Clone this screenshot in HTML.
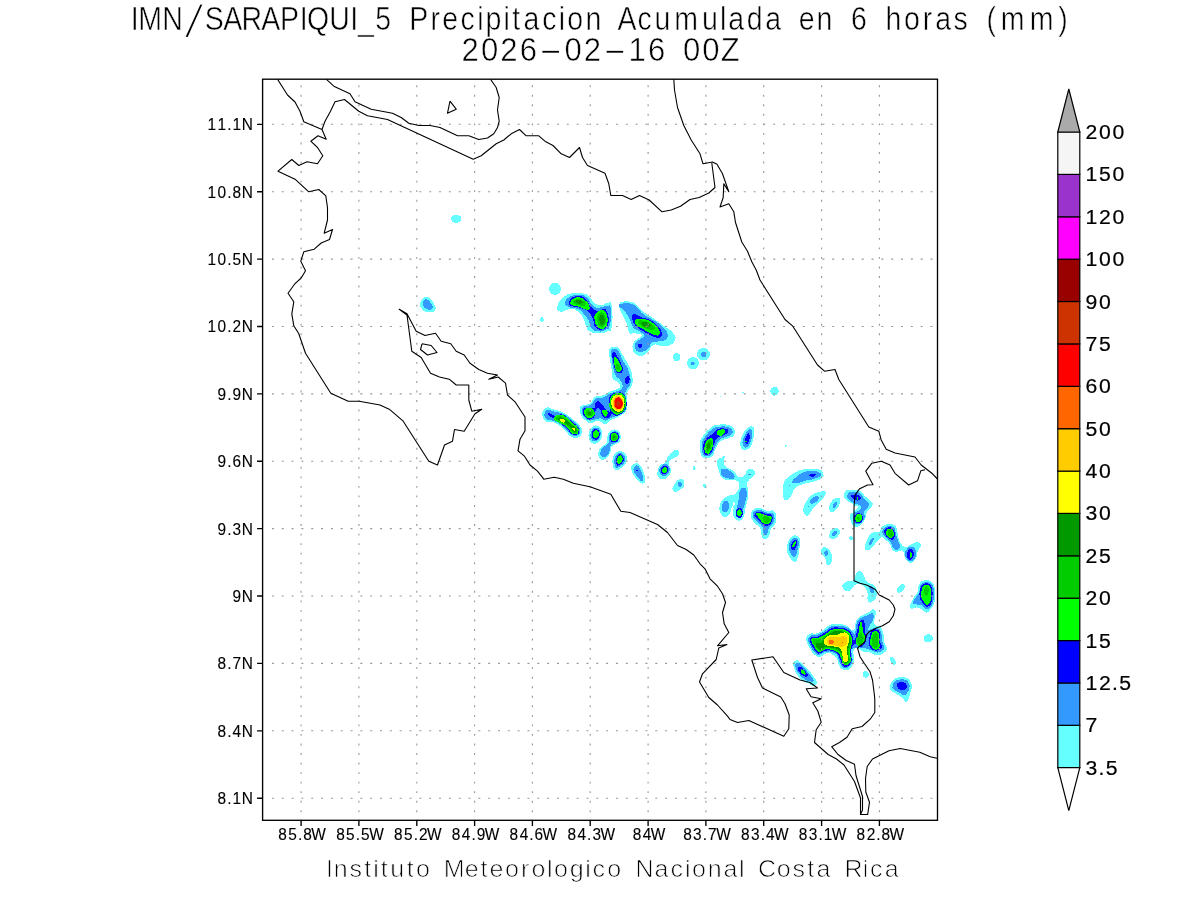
<!DOCTYPE html>
<html lang="es"><head><meta charset="utf-8"><title>IMN/SARAPIQUI_5 Precipitacion Acumulada en 6 horas (mm)</title>
<style>
html,body{margin:0;padding:0;background:#fff;}
body{width:1200px;height:900px;overflow:hidden;font-family:"Liberation Sans",sans-serif;}
svg{display:block;}
text{font-family:"Liberation Sans",sans-serif;fill:#000;}
.ti{font-size:32.4px;stroke:#fff;stroke-width:0.55px;paint-order:fill stroke;}
.ft{font-size:23.4px;stroke:#fff;stroke-width:0.72px;paint-order:fill stroke;}
.ax{font-size:16.6px;stroke:#000;stroke-width:.12px;}
.cb{font-size:20.8px;stroke:#000;stroke-width:.2px;}
</style></head><body>
<svg width="1200" height="900" viewBox="0 0 1200 900">
<defs><clipPath id="pc"><rect x="262.6" y="79.2" width="674.9" height="741.0999999999999"/></clipPath></defs>
<rect width="1200" height="900" fill="#fff"/>
<g clip-path="url(#pc)" shape-rendering="crispEdges">
<path fill="#66ffff" d="M461.5 218.8C461.5 219.8 461.5 219.8 460.8 220.8C460.1 221.7 460.1 221.7 458.9 222.2C457.7 222.7 457.7 222.8 456.2 222.8C454.8 222.8 454.8 222.7 453.6 222.2C452.4 221.7 452.4 221.7 451.7 220.8C451 219.8 451 219.8 451 218.8C451 217.7 451 217.7 451.7 216.8C452.4 215.8 452.4 215.8 453.6 215.3C454.8 214.8 454.8 214.8 456.2 214.8C457.7 214.8 457.7 214.8 458.9 215.3C460.1 215.8 460.1 215.8 460.8 216.8C461.5 217.7 461.5 217.7 461.5 218.8ZM420.2 303.8C420.6 301.3 420.7 300.6 422.5 298.8C424.3 296.9 424.7 296.8 427 297C429.3 297.2 429.2 297.4 431.2 299.5C433.2 301.6 433.4 302.2 434.5 305C435.6 307.8 436.3 308.1 435.2 310C434.2 311.9 433.2 311.9 430.5 312.2C427.8 312.6 427.5 312.6 425 311.5C422.5 310.4 422.5 310.1 421.2 308C420 305.9 419.9 306.2 420.2 303.8ZM543.5 319.5C543.5 320.2 543.5 320.2 543.3 320.8C543 321.3 543 321.3 542.6 321.7C542.2 322 542.2 322 541.8 322C541.3 322 541.3 322 540.9 321.7C540.5 321.3 540.5 321.3 540.2 320.8C540 320.2 540 320.2 540 319.5C540 318.8 540 318.8 540.2 318.2C540.5 317.7 540.5 317.7 540.9 317.3C541.3 317 541.3 317 541.8 317C542.2 317 542.2 317 542.6 317.3C543 317.7 543 317.7 543.3 318.2C543.5 318.8 543.5 318.8 543.5 319.5ZM560.8 288.8C560.8 290.4 560.8 290.4 560 291.8C559.3 293.2 559.3 293.2 557.9 294C556.6 294.8 556.6 294.8 555 294.8C553.4 294.8 553.4 294.8 552.1 294C550.7 293.2 550.7 293.2 550 291.8C549.2 290.4 549.2 290.4 549.2 288.8C549.2 287.2 549.2 287.2 550 285.8C550.7 284.4 550.7 284.4 552.1 283.6C553.4 282.8 553.4 282.8 555 282.8C556.6 282.8 556.6 282.8 557.9 283.6C559.3 284.4 559.3 284.4 560 285.8C560.8 287.2 560.8 287.2 560.8 288.8ZM543.7 319.7C543.7 320.4 543.7 320.4 543.4 321C543.2 321.6 543.2 321.6 542.8 322C542.4 322.3 542.4 322.3 542 322.3C541.6 322.3 541.6 322.3 541.2 322C540.8 321.6 540.8 321.6 540.6 321C540.3 320.4 540.3 320.4 540.3 319.7C540.3 319 540.3 318.9 540.6 318.3C540.8 317.7 540.8 317.7 541.2 317.4C541.6 317 541.6 317 542 317C542.4 317 542.4 317 542.8 317.4C543.2 317.7 543.2 317.7 543.4 318.3C543.7 318.9 543.7 319 543.7 319.7ZM557.5 305.8C558.4 302.1 559.6 300.8 563.3 297.5C567.1 294.2 566.8 294.4 571.7 293.3C576.6 292.2 577.2 292.7 581.7 293.3C586.1 294 584.8 293.2 588.3 295.8C591.9 298.5 591.4 300.9 595 303.3C598.6 305.8 598.1 305.2 601.7 305C605.2 304.8 605.7 302.3 608.3 302.5C611 302.7 610.8 299.4 611.7 305.8C612.6 312.3 613 319.8 611.7 326.7C610.3 333.6 610.2 329.9 606.7 331.7C603.1 333.4 602.8 333.3 598.3 333.3C593.9 333.3 593.3 333.7 590 331.7C586.7 329.7 587.6 329.4 585.8 325.8C584.1 322.3 585.8 322.3 583.3 318.3C580.9 314.3 580.2 313.3 576.7 310.8C573.1 308.4 574.4 308.9 570 309.2C565.6 309.4 563.3 312.6 560 311.7C556.7 310.8 556.6 309.6 557.5 305.8ZM619.2 305C619.6 301.9 620.4 302.6 623.3 301.7C626.2 300.8 626.4 300.8 630 301.7C633.6 302.6 633.1 302.3 636.7 305C640.2 307.7 638.9 308.1 643.3 311.7C647.8 315.2 647.6 314.3 653.3 318.3C659.1 322.3 659.7 322.7 665 326.7C670.3 330.7 670.7 329.8 673.3 333.3C676 336.9 675.9 336.9 675 340C674.1 343.1 673.6 343.4 670 345C666.4 346.6 666.1 345.8 661.7 345.8C657.2 345.8 656.9 343.4 653.3 345C649.8 346.6 651.4 348.8 648.3 351.7C645.2 354.6 645.2 355.4 641.7 355.8C638.1 356.3 637.4 355.8 635 353.3C632.6 350.9 632.5 350 632.5 346.7C632.5 343.3 632.6 343.7 635 340.8C637.4 337.9 641.7 337.8 641.7 335.8C641.7 333.8 638.3 334.2 635 333.3C631.7 332.4 631.4 335.2 629.2 332.5C626.9 329.8 628.7 328.4 626.7 323.3C624.7 318.2 623.7 318.2 621.7 313.3C619.7 308.4 618.7 308.1 619.2 305ZM609.2 350C610.1 346.5 610.9 347.5 613.3 347C615.8 346.5 616.1 346.3 618.3 348C620.6 349.7 619.4 349.7 621.7 353.3C623.9 357 624.2 357.2 626.7 361.7C629.1 366.1 629.3 365.6 630.8 370C632.4 374.4 632.2 374.3 632.5 378.3C632.8 382.3 633.3 381.2 632 385C630.7 388.8 628.8 388.2 627.5 392.5C626.2 396.8 627.3 396.3 627 401C626.7 405.7 628.4 406 626.5 410C624.6 414 624.1 413.3 620 416C615.9 418.7 614.9 417.9 611 420C607.1 422.1 608.4 423.6 605.5 424C602.6 424.4 602.8 422.2 600 421.5C597.2 420.8 597.7 421.1 595 421.5C592.3 421.9 592.7 423.4 590 423C587.3 422.6 587.4 422.1 585 420C582.6 417.9 582.3 418.2 581 415C579.7 411.8 579.5 410.7 580 408C580.5 405.3 580.3 406.2 583 405C585.7 403.8 586.8 405.6 590 403.5C593.2 401.4 591.7 399.1 595 397C598.3 394.9 598.5 397 602.5 395.5C606.5 394 606 393.2 610 391.5C614 389.8 614.8 390.3 617.5 389C620.2 387.7 619.6 388.1 620 386.5C620.4 384.9 621 385.2 619 383C617 380.8 614.5 381.8 612.5 378.3C610.5 374.9 612.3 374.9 611.7 370C611 365.1 610.7 365.3 610 360C609.3 354.7 608.3 353.5 609.2 350ZM680.5 357.2C680.5 358.3 680.5 358.3 680 359.2C679.5 360.2 679.5 360.2 678.6 360.8C677.7 361.3 677.7 361.3 676.7 361.3C675.6 361.3 675.6 361.3 674.8 360.8C673.9 360.2 673.9 360.2 673.4 359.2C672.8 358.3 672.8 358.3 672.8 357.2C672.8 356.1 672.8 356 673.4 355.1C673.9 354.1 673.9 354.1 674.8 353.6C675.6 353 675.6 353 676.7 353C677.7 353 677.7 353 678.6 353.6C679.5 354.1 679.5 354.1 680 355.1C680.5 356 680.5 356.1 680.5 357.2ZM709.7 354.2C709.7 355.9 709.7 355.9 708.8 357.3C708 358.8 708 358.8 706.5 359.6C705 360.5 705 360.5 703.3 360.5C701.6 360.5 701.6 360.5 700.2 359.6C698.7 358.8 698.7 358.8 697.9 357.3C697 355.9 697 355.9 697 354.2C697 352.5 697 352.5 697.9 351C698.7 349.5 698.7 349.5 700.2 348.7C701.6 347.8 701.6 347.8 703.3 347.8C705 347.8 705 347.8 706.5 348.7C708 349.5 708 349.5 708.8 351C709.7 352.5 709.7 352.5 709.7 354.2ZM698.8 363.3C698.8 364.9 698.8 364.9 698 366.3C697.3 367.7 697.3 367.7 695.9 368.5C694.6 369.3 694.6 369.3 693 369.3C691.4 369.3 691.4 369.3 690.1 368.5C688.7 367.7 688.7 367.7 688 366.3C687.2 364.9 687.2 364.9 687.2 363.3C687.2 361.7 687.2 361.7 688 360.3C688.7 358.9 688.7 358.9 690.1 358.1C691.4 357.3 691.4 357.3 693 357.3C694.6 357.3 694.6 357.3 695.9 358.1C697.3 358.9 697.3 358.9 698 360.3C698.8 361.7 698.8 361.7 698.8 363.3ZM542.5 412.5C543.5 409.8 543.8 408.4 546.7 407.5C549.6 406.6 548.9 407.8 553.3 409.2C557.8 410.5 558.4 410.1 563.3 412.5C568.2 414.9 567.2 414.8 571.7 418.3C576.1 421.9 577.2 422.1 580 425.8C582.8 429.6 582.7 429.4 582 432.5C581.3 435.6 580.5 436.4 577.5 437.5C574.5 438.6 574.2 438.4 570.8 436.7C567.5 434.9 569 434.4 565 430.8C561 427.3 560.7 425.8 555.8 423.3C550.9 420.9 550.1 423.2 546.7 421.7C543.2 420.1 544.1 419.9 543 417.5C541.9 415.1 541.5 415.2 542.5 412.5ZM601.9 435.8C601.5 438.2 601.5 438.2 600.2 440.2C599 442.1 599 442.1 597.2 443.1C595.5 444 595.5 444 593.7 443.7C592 443.4 592 443.4 590.7 441.9C589.4 440.4 589.4 440.4 588.9 438.2C588.3 435.9 588.3 435.9 588.8 433.5C589.2 431.1 589.2 431.1 590.4 429.1C591.7 427.2 591.7 427.2 593.4 426.3C595.2 425.3 595.2 425.3 596.9 425.6C598.7 425.9 598.7 426 600 427.4C601.3 428.9 601.3 428.9 601.8 431.2C602.3 433.4 602.3 433.4 601.9 435.8ZM607.5 435.8C608.6 432.7 608.4 432.4 610.8 430.8C613.3 429.3 614.1 429.1 616.7 430C619.2 430.9 619.4 431.3 620.3 434.2C621.2 437.1 621.2 438.2 620 440.8C618.8 443.5 618.1 442.6 615.8 444.2C613.6 445.7 613.2 444.2 611.7 446.7C610.1 449.1 611.8 450 610 453.3C608.2 456.7 607.7 457.8 605 459.2C602.3 460.5 601.8 460.1 600 458.3C598.2 456.6 597.9 455.6 598.3 452.5C598.8 449.4 599.4 449.3 601.7 446.7C603.9 444 605.1 445.4 606.7 442.5C608.2 439.6 606.4 438.9 607.5 435.8ZM613.3 456.7C614.6 453.1 615.1 453 617.5 451.7C619.9 450.3 620.1 450.3 622.5 451.7C624.9 453 625.8 453.6 626.7 456.7C627.6 459.8 627.4 460.2 625.8 463.3C624.3 466.4 623.5 466.6 620.8 468.3C618.2 470 618 470.6 615.8 469.7C613.7 468.8 613.5 468.5 612.8 465C612.2 461.5 612.1 460.2 613.3 456.7ZM631.3 468.3C631.3 465.1 632.1 464.8 634.2 463.7C636.3 462.6 636.7 462 639.2 464.2C641.6 466.3 641.8 467.4 643.3 471.7C644.9 475.9 645.2 476.8 645 480C644.8 483.2 644.3 483.4 642.5 483.7C640.7 483.9 640.6 482.9 638.3 480.8C636.1 478.7 636 479.2 634.2 475.8C632.3 472.5 631.3 471.6 631.3 468.3ZM657.5 471.7C657.9 468.8 658 468.3 660 465.8C662 463.4 663 464.7 665 462.5C667 460.3 665.7 460.2 667.5 457.5C669.3 454.8 669.2 454.5 671.7 452.5C674.1 450.5 674.7 450 676.7 450C678.7 450 679.2 450.7 679.2 452.5C679.2 454.3 678.9 454.7 676.7 456.7C674.4 458.7 672.8 458 670.8 460C668.8 462 669.2 461.5 669.2 464.2C669.2 466.8 671.1 466.7 670.8 470C670.6 473.3 670.6 474.2 668.3 476.7C666.1 479.1 665.2 479.2 662.5 479.2C659.8 479.2 659.7 478.7 658.3 476.7C657 474.7 657.1 474.6 657.5 471.7ZM672.5 489.2C672.3 486.9 673.2 486 675 483.3C676.8 480.7 676.9 480.1 679.2 479.2C681.4 478.3 682 478.4 683.3 480C684.7 481.6 684.8 482.6 684.2 485C683.5 487.4 683.1 487.4 680.8 489.2C678.6 490.9 678.1 491.7 675.8 491.7C673.6 491.7 672.7 491.4 672.5 489.2ZM695.2 468C695.2 468.6 695.2 468.6 695 469.2C694.8 469.7 694.8 469.7 694.5 470C694.2 470.3 694.2 470.3 693.8 470.3C693.5 470.3 693.5 470.3 693.2 470C692.9 469.7 692.9 469.7 692.7 469.2C692.5 468.6 692.5 468.6 692.5 468C692.5 467.4 692.5 467.4 692.7 466.8C692.9 466.3 692.9 466.3 693.2 466C693.5 465.7 693.5 465.7 693.8 465.7C694.2 465.7 694.2 465.7 694.5 466C694.8 466.3 694.8 466.3 695 466.8C695.2 467.4 695.2 467.4 695.2 468ZM706.2 485.5C706.2 486 706.2 486 706 486.4C705.8 486.8 705.8 486.8 705.4 487.1C705.1 487.3 705.1 487.3 704.7 487.3C704.3 487.3 704.3 487.3 703.9 487.1C703.6 486.8 703.6 486.8 703.4 486.4C703.2 486 703.2 486 703.2 485.5C703.2 485 703.2 485 703.4 484.6C703.6 484.2 703.6 484.2 703.9 483.9C704.3 483.7 704.3 483.7 704.7 483.7C705.1 483.7 705.1 483.7 705.4 483.9C705.8 484.2 705.8 484.2 706 484.6C706.2 485 706.2 485 706.2 485.5ZM700 443.3C700.7 438.4 700.7 439.8 703.3 435.8C706 431.8 706.4 431.2 710 428.3C713.6 425.4 711.8 425.9 716.7 425C721.6 424.1 723.7 423.9 728.3 425C733 426.1 732.6 426.5 734.2 429.2C735.7 431.8 735.7 432.6 734.2 435C732.6 437.4 732.1 436.6 728.3 438.3C724.6 440.1 723.6 438.6 720 441.7C716.4 444.8 717 446.2 715 450C713 453.8 714.9 453.6 712.5 455.8C710.1 458.1 708.9 458.8 705.8 458.3C702.7 457.9 702.4 458.2 700.8 454.2C699.3 450.2 699.3 448.2 700 443.3ZM740.3 441.7C741 438.1 741.2 437.1 743.3 433.3C745.5 429.6 745.9 429.3 748.3 427.5C750.8 425.7 750.9 425.6 752.5 426.7C754.1 427.8 754.2 427.7 754.2 431.7C754.2 435.7 753.8 437.2 752.5 441.7C751.2 446.1 751.6 446.2 749.2 448.3C746.7 450.5 745.6 450.1 743.3 449.7C741.1 449.2 741.6 448.8 740.8 446.7C740 444.5 739.7 445.2 740.3 441.7ZM786.7 445.8C786.7 446.1 786.7 446.1 786.6 446.2C786.4 446.4 786.4 446.4 786.2 446.6C786.1 446.7 786.1 446.7 785.8 446.7C785.6 446.7 785.6 446.7 785.4 446.6C785.2 446.4 785.2 446.4 785.1 446.2C785 446.1 785 446.1 785 445.8C785 445.6 785 445.6 785.1 445.4C785.2 445.2 785.2 445.2 785.4 445.1C785.6 445 785.6 445 785.8 445C786.1 445 786.1 445 786.2 445.1C786.4 445.2 786.4 445.2 786.6 445.4C786.7 445.6 786.7 445.6 786.7 445.8ZM695.4 467.5C695.6 468.1 695.6 468.1 695.6 468.6C695.6 469.2 695.6 469.2 695.4 469.5C695.2 469.9 695.2 469.9 694.9 470C694.6 470.2 694.6 470.2 694.2 470C693.8 469.8 693.8 469.8 693.5 469.4C693.1 469 693.1 469 692.9 468.5C692.7 467.9 692.7 467.9 692.7 467.4C692.7 466.8 692.7 466.8 692.9 466.5C693.1 466.1 693.1 466.1 693.4 466C693.8 465.8 693.8 465.8 694.1 466C694.5 466.2 694.5 466.2 694.9 466.6C695.2 467 695.2 467 695.4 467.5ZM706.3 485.8C706.3 486.4 706.3 486.4 706.1 486.9C705.9 487.4 705.9 487.4 705.5 487.7C705.1 488 705.1 488 704.7 488C704.2 488 704.2 488 703.8 487.7C703.4 487.4 703.4 487.4 703.2 486.9C703 486.4 703 486.4 703 485.8C703 485.3 703 485.2 703.2 484.8C703.4 484.3 703.4 484.2 703.8 484C704.2 483.7 704.2 483.7 704.7 483.7C705.1 483.7 705.1 483.7 705.5 484C705.9 484.2 705.9 484.3 706.1 484.8C706.3 485.2 706.3 485.3 706.3 485.8ZM717 461.7C717.7 457.9 719.4 459.1 721.7 457.5C723.9 455.9 724.8 454.7 725.3 455.8C725.9 456.9 723.5 458.8 723.7 461.7C723.8 464.6 723.3 464.2 725.8 466.7C728.4 469.1 730 468.2 733.3 470.8C736.7 473.5 735.4 475.3 738.3 476.7C741.2 478 741.9 477.4 744.2 475.8C746.4 474.3 744.9 472.7 746.7 470.8C748.4 468.9 748.7 468.4 750.8 468.7C753 468.9 754 469.5 754.7 471.7C755.3 473.8 755 474.2 753.3 476.7C751.6 479.1 749.9 478.2 748.3 480.8C746.8 483.5 747.5 482.9 747.5 486.7C747.5 490.4 748.8 489.7 748.3 495C747.9 500.3 746.9 501.3 745.8 506.7C744.7 512 745.5 511.4 744.2 515C742.8 518.6 743.1 518.9 740.8 520C738.6 521.1 737.9 520.9 735.8 519.2C733.7 517.4 733.6 516.2 733 513.3C732.4 510.4 733.9 510.1 733.7 508.3C733.4 506.6 733 505.3 732 506.7C731 508 731.9 510.7 730 513.3C728.1 516 727.4 516.7 725 516.7C722.6 516.7 722.3 516 720.8 513.3C719.4 510.7 719.1 510.2 719.5 506.7C719.9 503.1 720.1 502.9 722.5 500C724.9 497.1 724.8 497.6 728.3 495.8C731.9 494.1 732.9 496.2 735.8 493.3C738.7 490.4 738.9 488.3 739.2 485C739.4 481.7 739.1 482.2 736.7 480.8C734.2 479.5 733.8 480.7 730 480C726.2 479.3 725.4 480.6 722.5 478.3C719.6 476.1 720.6 476.1 719.2 471.7C717.7 467.2 716.3 465.4 717 461.7ZM750.8 515C750.8 511.4 751.7 511 754.2 509.2C756.6 507.3 756.7 507.6 760 508C763.3 508.4 763.1 510.1 766.7 510.8C770.2 511.6 770.8 509.3 773.3 510.8C775.9 512.4 775.9 513.1 776.3 516.7C776.8 520.2 776.5 520.8 775 524.2C773.5 527.5 772.4 526.1 770.8 529.2C769.3 532.3 770.7 533.2 769.2 535.8C767.6 538.5 767.1 539.4 765 539.2C762.9 538.9 762.7 538.1 761.3 535C760 531.9 761.9 530.8 760 527.5C758.1 524.2 756.6 525.8 754.2 522.5C751.7 519.2 750.8 518.6 750.8 515ZM783.7 483.3C785 478.2 784.9 480.6 788.3 477.5C791.8 474.4 791.8 473.9 796.7 471.7C801.6 469.4 800.9 469.8 806.7 469.2C812.4 468.5 814 468.1 818.3 469.2C822.7 470.3 822.1 470.9 823 473.3C823.9 475.8 824.2 476.1 821.7 478.3C819.1 480.6 818.2 480.1 813.3 481.7C808.4 483.2 808.2 482.4 803.3 484.2C798.4 485.9 798.1 485.4 795 488.3C791.9 491.2 793.9 491.9 791.7 495C789.4 498.1 788.9 499.6 786.7 500C784.4 500.4 784.1 501.1 783.3 496.7C782.5 492.2 782.3 488.4 783.7 483.3ZM803.3 508.3C804 504.6 805.3 503.6 807.5 500C809.7 496.4 808.3 497.2 811.7 495C815 492.8 816.4 492.6 820 491.7C823.6 490.7 824.1 490.2 825.3 491.3C826.6 492.4 826.1 493.1 824.7 495.8C823.2 498.6 823 498.3 820 501.7C817 505 816.4 504.8 813.3 508.3C810.2 511.9 810.6 513.4 808.3 515C806.1 516.6 806.3 515.9 805 514.2C803.7 512.4 802.7 512.1 803.3 508.3ZM829.2 508.3C828.9 505.8 829.1 505.2 830.8 502.5C832.6 499.8 833.4 499.2 835.8 498.3C838.3 497.4 839.1 497.4 840 499.2C840.9 500.9 840.3 502.1 839.2 505C838.1 507.9 837.8 508.1 835.8 510C833.8 511.9 833.4 512.4 831.7 512C829.9 511.6 829.4 510.9 829.2 508.3ZM829.2 535C829.4 532.8 829.7 531.9 831.7 530C833.7 528.1 834.4 527.8 836.7 528C838.9 528.2 839.6 528.7 840 530.8C840.4 532.9 839.9 533.7 838.3 535.8C836.8 537.9 836.2 538 834.2 538.7C832.2 539.3 832.2 539.3 830.8 538.3C829.5 537.4 828.9 537.2 829.2 535ZM853.2 538.3C853.2 538.7 853.2 538.7 853 539.1C852.8 539.4 852.8 539.4 852.4 539.6C852.1 539.8 852.1 539.8 851.7 539.8C851.3 539.8 851.3 539.8 850.9 539.6C850.6 539.4 850.6 539.4 850.4 539.1C850.2 538.7 850.2 538.7 850.2 538.3C850.2 537.9 850.2 537.9 850.4 537.6C850.6 537.2 850.6 537.2 850.9 537C851.3 536.8 851.3 536.8 851.7 536.8C852.1 536.8 852.1 536.8 852.4 537C852.8 537.2 852.8 537.2 853 537.6C853.2 537.9 853.2 537.9 853.2 538.3ZM787 546.7C787.4 543.3 787.5 542.9 789.2 540C790.9 537.1 790.9 536.7 793.3 535.8C795.8 534.9 796.5 535.1 798.3 536.7C800.2 538.2 800.1 538.1 800.3 541.7C800.6 545.2 799.9 545.6 799.2 550C798.4 554.4 798.8 555.2 797.5 558.3C796.2 561.4 796.2 561.9 794.2 561.7C792.2 561.4 791.8 559.9 790 557.5C788.2 555.1 788.3 555.4 787.5 552.5C786.7 549.6 786.6 550 787 546.7ZM829.2 535.8C829.4 533.6 829.7 532.1 831.7 530C833.7 527.9 834.4 527.8 836.7 528C838.9 528.2 839.6 528.7 840 530.8C840.4 532.9 839.9 533.7 838.3 535.8C836.8 537.9 836.2 538 834.2 538.7C832.2 539.3 832.2 539.1 830.8 538.3C829.5 537.6 828.9 538.1 829.2 535.8ZM820.8 550C821.3 547.9 822.2 547.4 824.2 547.2C826.2 546.9 826.3 547.3 828.3 549.2C830.3 551 830.7 551.3 831.7 554.2C832.6 557.1 832.4 557.2 832 560C831.6 562.8 831.4 563.6 830 564.7C828.6 565.8 827.8 565.6 826.7 564.2C825.6 562.7 826.9 561.6 825.8 559.2C824.7 556.7 823.8 557.4 822.5 555C821.2 552.6 820.4 552.1 820.8 550ZM853.3 538.3C853.3 538.9 853.3 538.9 853.1 539.3C852.8 539.8 852.8 539.8 852.3 540.1C851.9 540.3 851.9 540.3 851.3 540.3C850.8 540.3 850.8 540.3 850.3 540.1C849.9 539.8 849.9 539.8 849.6 539.3C849.3 538.9 849.3 538.9 849.3 538.3C849.3 537.8 849.3 537.8 849.6 537.3C849.9 536.9 849.9 536.9 850.3 536.6C850.8 536.3 850.8 536.3 851.3 536.3C851.9 536.3 851.9 536.3 852.3 536.6C852.8 536.9 852.8 536.9 853.1 537.3C853.3 537.8 853.3 537.8 853.3 538.3ZM786.7 445.8C786.7 446.1 786.7 446.1 786.6 446.2C786.4 446.4 786.4 446.4 786.2 446.6C786.1 446.7 786.1 446.7 785.8 446.7C785.6 446.7 785.6 446.7 785.4 446.6C785.2 446.4 785.2 446.4 785.1 446.2C785 446.1 785 446.1 785 445.8C785 445.6 785 445.6 785.1 445.4C785.2 445.2 785.2 445.2 785.4 445.1C785.6 445 785.6 445 785.8 445C786.1 445 786.1 445 786.2 445.1C786.4 445.2 786.4 445.2 786.6 445.4C786.7 445.6 786.7 445.6 786.7 445.8ZM865 546.7C865.2 543.8 865.7 542.7 867.5 539.2C869.3 535.6 869.2 535.3 871.7 533.3C874.1 531.3 873.8 531.7 876.7 531.7C879.6 531.7 881.4 531.8 882.5 533.3C883.6 534.9 882.4 535.3 880.8 537.5C879.3 539.7 879.1 538.8 876.7 541.7C874.2 544.6 874.3 546.1 871.7 548.3C869 550.6 868.4 550.4 866.7 550C864.9 549.6 864.8 549.6 865 546.7ZM880.3 530.8C880.9 528.4 880.8 527.6 883.3 525.8C885.9 524.1 886.7 523.9 890 524.2C893.3 524.4 893.8 524.2 895.8 526.7C897.8 529.1 896.4 529.3 897.5 533.3C898.6 537.3 898 538.1 900 541.7C902 545.2 901.9 546 905 546.7C908.1 547.3 908.3 545.4 911.7 544.2C915 542.9 915.1 541.7 917.5 542C919.9 542.3 920.8 542.8 920.8 545.3C920.8 547.9 918.8 548.2 917.5 551.7C916.2 555.1 917.4 555.4 915.8 558.3C914.3 561.2 913.9 561.7 911.7 562.5C909.4 563.3 909.4 562.9 907.5 561.3C905.6 559.8 906 559.5 904.7 556.7C903.3 553.9 904.6 552.2 902.5 550.8C900.4 549.5 899.3 551.9 896.7 551.7C894 551.4 894.3 552 892.5 550C890.7 548 892 547.1 890 544.2C888 541.3 887.3 541.6 885 539.2C882.7 536.7 882.6 537.2 881.3 535C880.1 532.8 879.8 533.3 880.3 530.8ZM842.5 585C843.4 583.2 843.8 583 846.7 581.7C849.6 580.3 850.7 582.4 853.3 580C856 577.6 854.7 574.8 856.7 572.5C858.7 570.2 858.8 570.2 860.8 571.3C862.8 572.4 862.6 573.9 864.2 576.7C865.7 579.4 864.2 579.4 866.7 581.7C869.1 583.9 870.7 582.8 873.3 585C876 587.2 876 586.4 876.7 590C877.3 593.6 876.7 595.4 875.8 598.3C874.9 601.2 874.9 599.7 873.3 600.8C871.8 601.9 871.6 602.9 870 602.5C868.4 602.1 868.2 601.6 867.5 599.2C866.8 596.7 868.4 596.7 867.5 593.3C866.6 590 867.1 589.1 864.2 586.7C861.3 584.2 860 583.5 856.7 584.2C853.3 584.8 854.3 587.4 851.7 589.2C849 590.9 848.9 591.1 846.7 590.8C844.4 590.6 844.4 589.9 843.3 588.3C842.2 586.8 841.6 586.8 842.5 585ZM897 590C897.2 588.2 897.5 587.4 899.2 585.8C900.9 584.3 901.8 583.7 903.3 584.2C904.9 584.6 905.4 585.5 905 587.5C904.6 589.5 903.4 590.3 901.7 591.7C899.9 593 899.6 592.9 898.3 592.5C897.1 592.1 896.8 591.8 897 590ZM806.3 640C806.1 636.2 806.4 635.9 809.2 634.2C811.9 632.4 812.9 634.4 816.7 633.3C820.4 632.2 819.8 632.2 823.3 630C826.9 627.8 826 626.6 830 625C834 623.4 833.9 623.9 838.3 624.2C842.8 624.4 842.7 624.3 846.7 625.8C850.7 627.4 850.9 631.1 853.3 630C855.8 628.9 854.1 625.2 855.8 621.7C857.6 618.1 856.7 619.1 860 616.7C863.3 614.2 864.8 614.5 868.3 612.5C871.9 610.5 871.3 608.9 873.3 609.2C875.3 609.4 875.6 610.4 875.8 613.3C876.1 616.2 874.4 616.9 874.2 620C873.9 623.1 873.4 623.2 875 625C876.6 626.8 877.8 624.4 880 626.7C882.2 628.9 882.2 629.3 883.3 633.3C884.4 637.3 883.3 637.7 884.2 641.7C885.1 645.7 886.9 645.2 886.7 648.3C886.4 651.4 886 651.6 883.3 653.3C880.7 655.1 880.2 655.2 876.7 655C873.1 654.8 873.6 653.4 870 652.5C866.4 651.6 866.9 652.8 863.3 651.7C859.8 650.6 859.3 648.3 856.7 648.3C854 648.3 854 648.6 853.3 651.7C852.7 654.8 854.8 655.8 854.2 660C853.5 664.2 853.3 664.8 850.8 667.5C848.4 670.2 848 670.2 845 670C842 669.8 841.7 669.3 839.7 666.7C837.7 664 839.2 663.1 837.5 660C835.8 656.9 836.2 656.8 833.3 655C830.4 653.2 830.2 652.9 826.7 653.3C823.1 653.8 823.1 656.2 820 656.7C816.9 657.1 817.7 657.2 815 655C812.3 652.8 812.3 652.3 810 648.3C807.7 644.3 806.6 643.8 806.3 640ZM793.3 663.3C793.8 661.2 793.8 660.7 795.8 660.5C797.8 660.3 797.5 660 800.8 662.5C804.2 665 804.6 665.8 808.3 670C812.1 674.2 812.8 674.8 815 678.3C817.2 681.9 817.1 681.3 816.7 683.3C816.2 685.3 815.6 685.8 813.3 685.8C811.1 685.8 811.4 684.9 808.3 683.3C805.2 681.8 804.8 682.4 801.7 680C798.6 677.6 798.7 677.3 796.7 674.2C794.7 671.1 795.1 671.2 794.2 668.3C793.3 665.4 792.9 665.4 793.3 663.3ZM897 590C897.2 588.2 897.5 587.4 899.2 585.8C900.9 584.3 901.8 583.7 903.3 584.2C904.9 584.6 905.4 585.5 905 587.5C904.6 589.5 903.4 590.3 901.7 591.7C899.9 593 899.6 592.9 898.3 592.5C897.1 592.1 896.8 591.8 897 590ZM910 605.8C910.4 603.1 911.3 602.1 913.3 598.3C915.3 594.6 915.9 595.4 917.5 591.7C919.1 587.9 917.4 587.2 919.2 584.2C920.9 581.1 921.3 581.2 924.2 580.3C927.1 579.4 927.3 579.4 930 580.8C932.7 582.3 932.8 582.5 934.2 585.8C935.5 589.2 935 588.7 935 593.3C935 598 935.5 598.9 934.2 603.3C932.8 607.8 932.2 607.6 930 610C927.8 612.4 928.1 612.7 925.8 612.5C923.6 612.3 924.1 610.5 921.7 609.2C919.2 607.8 919.3 607.6 916.7 607.5C914 607.4 913.4 609.1 911.7 608.7C909.9 608.2 909.6 608.6 910 605.8ZM932.8 638.3C932.8 639.4 932.8 639.5 932.2 640.4C931.6 641.4 931.6 641.4 930.6 641.9C929.5 642.5 929.5 642.5 928.3 642.5C927.1 642.5 927.1 642.5 926.1 641.9C925 641.4 925 641.4 924.4 640.4C923.8 639.5 923.8 639.4 923.8 638.3C923.8 637.2 923.8 637.2 924.4 636.2C925 635.3 925 635.3 926.1 634.7C927.1 634.2 927.1 634.2 928.3 634.2C929.5 634.2 929.5 634.2 930.6 634.7C931.6 635.3 931.6 635.3 932.2 636.2C932.8 637.2 932.8 637.2 932.8 638.3ZM890 659.2C890.2 657.5 890.9 656 892.5 656.7C894.1 657.3 895.4 659.5 895.8 661.7C896.3 663.8 895.3 664.3 894.2 664.7C893.1 665 892.8 664.5 891.7 663C890.6 661.5 889.8 660.9 890 659.2ZM868.8 674.5C868.8 675.4 868.8 675.4 868.4 676.2C868 676.9 868 676.9 867.3 677.4C866.6 677.8 866.6 677.8 865.8 677.8C865 677.8 865 677.8 864.3 677.4C863.6 676.9 863.6 676.9 863.2 676.2C862.8 675.4 862.8 675.4 862.8 674.5C862.8 673.6 862.8 673.6 863.2 672.8C863.6 672.1 863.6 672.1 864.3 671.6C865 671.2 865 671.2 865.8 671.2C866.6 671.2 866.6 671.2 867.3 671.6C868 672.1 868 672.1 868.4 672.8C868.8 673.6 868.8 673.6 868.8 674.5ZM890 686.7C890.2 684 890.3 683.3 892.5 680.8C894.7 678.4 895 678.4 898.3 677.5C901.7 676.6 901.9 676.6 905 677.5C908.1 678.4 908.2 678.4 910 680.8C911.8 683.3 911.7 683.3 911.7 686.7C911.7 690 910.9 689.8 910 693.3C909.1 696.9 909.4 697.8 908.3 700C907.2 702.2 907.4 702.1 905.8 701.7C904.3 701.2 904.9 700.3 902.5 698.3C900.1 696.3 899.6 696.2 896.7 694.2C893.8 692.2 893.4 692.8 891.7 690.8C889.9 688.8 889.8 689.3 890 686.7ZM843.9 495.6C844 493.6 844.4 492.6 845.6 491.1C846.7 489.6 845.4 490.3 848.3 490C851.3 489.7 853.3 489.5 856.7 490C860.1 490.5 858.7 490.2 861.1 491.9C863.5 493.7 862.7 493.9 865.6 496.7C868.4 499.4 870 499.7 871.7 502.2C873.4 504.7 872.7 504 871.9 506.1C871.2 508.2 870.4 508.1 868.9 510C867.3 511.9 867 511.3 866.1 513.3C865.2 515.4 866.6 515.1 865.6 517.8C864.5 520.4 864.3 521 862.2 523.3C860.1 525.7 860.2 525.9 857.8 526.7C855.4 527.4 855.1 527.3 853.3 526.1C851.6 524.9 852 524.7 851.1 522.2C850.2 519.7 849.9 519.1 850 516.7C850.1 514.2 850.5 514.2 851.4 513.1C852.3 511.9 852.8 514.4 853.3 512.2C853.9 510.1 854.8 507.8 853.4 505C852.1 502.2 850.6 503.4 848.3 501.7C846.1 499.9 846.2 500 845 498.3C843.8 496.7 843.7 497.5 843.9 495.6ZM778.3 392.6C777.9 393.7 777.8 393.8 777 394.6C776.1 395.3 776.1 395.4 775 395.6C774 395.8 774 395.8 773 395.5C772 395.1 772 395.1 771.3 394.2C770.6 393.4 770.6 393.3 770.5 392.2C770.3 391 770.3 391 770.7 389.9C771.1 388.8 771.2 388.7 772 387.9C772.9 387.2 772.9 387.1 774 386.9C775 386.7 775 386.7 776 387C777 387.4 777 387.4 777.7 388.3C778.4 389.1 778.4 389.2 778.5 390.3C778.7 391.5 778.7 391.5 778.3 392.6ZM744 392.8C744 392.9 744 392.9 743.9 393.1C743.7 393.3 743.7 393.3 743.5 393.4C743.3 393.5 743.3 393.5 743 393.5C742.7 393.5 742.7 393.5 742.5 393.4C742.3 393.3 742.3 393.3 742.1 393.1C742 392.9 742 392.9 742 392.8C742 392.6 742 392.6 742.1 392.4C742.3 392.2 742.3 392.2 742.5 392.1C742.7 392 742.7 392 743 392C743.3 392 743.3 392 743.5 392.1C743.7 392.2 743.7 392.2 743.9 392.4C744 392.6 744 392.6 744 392.8ZM721 396.2C721 396.4 721 396.4 720.9 396.6C720.8 396.8 720.8 396.8 720.6 396.9C720.4 397 720.4 397 720.2 397C720.1 397 720.1 397 719.9 396.9C719.7 396.8 719.7 396.8 719.6 396.6C719.5 396.4 719.5 396.4 719.5 396.2C719.5 396.1 719.5 396.1 719.6 395.9C719.7 395.7 719.7 395.7 719.9 395.6C720.1 395.5 720.1 395.5 720.2 395.5C720.4 395.5 720.4 395.5 720.6 395.6C720.8 395.7 720.8 395.7 720.9 395.9C721 396.1 721 396.1 721 396.2Z"/>
<path fill="#3399ff" d="M422.5 303.8C422.5 301.8 423 301 424.5 300C426 299 426.2 299 428 300C429.8 301 430 301.6 431.2 303.8C432.5 305.9 433.4 306.4 432.8 308C432.1 309.6 431.2 309.9 429 309.8C426.8 309.6 426.2 309.1 424.5 307.5C422.8 305.9 422.5 305.8 422.5 303.8ZM565 303.3C565 300.4 566 298.9 570 296.7C574 294.4 575.6 294.8 580 295C584.4 295.2 583.1 294.6 586.7 297.5C590.2 300.4 589.8 303.2 593.3 305.8C596.9 308.5 596.4 307.5 600 307.5C603.6 307.5 603.8 305.6 606.7 305.8C609.6 306.1 609.9 303.2 610.8 308.3C611.7 313.4 611.6 319.2 610 325C608.4 330.8 608.1 328.3 605 330C601.9 331.7 601.9 331.8 598.3 331.3C594.8 330.9 594.3 331.4 591.7 328.3C589 325.3 590.6 324 588.3 320C586.1 316 586 316.2 583.3 313.3C580.7 310.4 581.9 310.7 578.3 309.2C574.8 307.6 573.6 309.1 570 307.5C566.4 305.9 565 306.2 565 303.3ZM619.2 305.8C618.9 303.6 620.8 303.8 624.2 303.3C627.5 302.9 627.9 302.8 631.7 304.2C635.4 305.5 635.2 305.7 638.3 308.3C641.4 311 639.3 311.1 643.3 314.2C647.3 317.3 648 316.4 653.3 320C658.7 323.6 659.6 323.7 663.3 327.5C667.1 331.3 667.1 330.8 667.5 334.2C667.9 337.5 667.9 338 665 340C662.1 342 660.2 341 656.7 341.7C653.1 342.3 653.9 340.7 651.7 342.5C649.4 344.3 650.8 345.9 648.3 348.3C645.9 350.8 645.6 351 642.5 351.7C639.4 352.3 638.8 352.4 636.7 350.8C634.6 349.3 634.7 348.3 634.7 345.8C634.7 343.4 634.1 344.3 636.7 341.7C639.2 339 643.3 338.5 644.2 335.8C645.1 333.2 642.9 333.9 640 331.7C637.1 329.4 636 330.6 633.3 327.5C630.7 324.4 632.2 324.2 630 320C627.8 315.8 627.9 315.4 625 311.7C622.1 307.9 619.4 308.1 619.2 305.8ZM610.8 351.7C611.5 349.2 612.2 349.4 614.2 349.2C616.2 348.9 616.1 347.9 618.3 350.8C620.6 353.7 620.1 355.3 622.5 360C624.9 364.7 625.5 363.9 627.5 368.3C629.5 372.8 629.3 372.4 630 376.7C630.7 381 631.2 380.4 630 384.5C628.8 388.6 626.6 387.9 625.5 392C624.4 396.1 626 395.3 626 400C626 404.7 627.4 405.6 625.7 409.5C623.9 413.4 623.4 412.2 619.5 414.5C615.6 416.8 614.7 416.4 611 418C607.3 419.6 608.2 420.4 605.5 420.5C602.8 420.6 603.8 418.8 601 418.5C598.2 418.2 597.9 419 595 419.5C592.1 420 592.5 420.9 590 420.5C587.5 420.1 587.5 419.7 585.5 418C583.5 416.3 583.4 416.3 582.5 414C581.6 411.7 581.5 411.6 582 409.5C582.5 407.4 582.2 407.2 584.5 406C586.8 404.8 587.4 407 590.5 405C593.6 403 592.7 400.5 596 398.5C599.3 396.5 599.3 398.8 603 397.5C606.7 396.2 606.1 395.2 610 393.5C613.9 391.8 614.2 392.7 617.5 391C620.8 389.3 621.8 389.9 622.5 387C623.2 384.1 621.8 383 620 380C618.2 377 617.6 378.9 615.8 375.8C614.1 372.7 614.4 373 613.3 368.3C612.2 363.7 612.3 362.8 611.7 358.3C611 353.9 610.2 354.1 610.8 351.7ZM706.5 354.5C706.5 355.2 706.5 355.2 706.1 355.8C705.8 356.4 705.8 356.5 705.2 356.8C704.6 357.2 704.5 357.2 703.8 357.2C703.1 357.2 703.1 357.2 702.5 356.8C701.9 356.5 701.9 356.4 701.5 355.8C701.2 355.2 701.2 355.2 701.2 354.5C701.2 353.8 701.2 353.8 701.5 353.2C701.9 352.6 701.9 352.5 702.5 352.2C703.1 351.8 703.1 351.8 703.8 351.8C704.5 351.8 704.6 351.8 705.2 352.2C705.8 352.5 705.8 352.6 706.1 353.2C706.5 353.8 706.5 353.8 706.5 354.5ZM694.7 363.7C694.7 364.2 694.7 364.2 694.4 364.6C694.2 365 694.2 365 693.8 365.2C693.3 365.5 693.3 365.5 692.8 365.5C692.3 365.5 692.3 365.5 691.9 365.2C691.5 365 691.5 365 691.2 364.6C691 364.2 691 364.2 691 363.7C691 363.2 691 363.2 691.2 362.8C691.5 362.3 691.5 362.3 691.9 362.1C692.3 361.8 692.3 361.8 692.8 361.8C693.3 361.8 693.3 361.8 693.8 362.1C694.2 362.3 694.2 362.3 694.4 362.8C694.7 363.2 694.7 363.2 694.7 363.7ZM544.7 413C545.3 411.1 545.2 410.1 547.5 409.7C549.8 409.2 549.1 410.1 553.3 411.3C557.6 412.5 558.4 411.9 563.3 414.2C568.2 416.5 567.6 416.7 571.7 420C575.8 423.3 576.4 423.5 578.7 426.7C580.9 429.9 580.5 429.6 580 432C579.5 434.4 579 434.8 576.7 435.5C574.4 436.2 574.2 436.4 571.3 434.7C568.4 433 569.7 432.5 565.8 429.2C561.9 425.8 561.6 424.5 556.7 422C551.8 419.5 550.6 421.1 547.5 419.7C544.4 418.2 545.8 418.4 545 416.7C544.2 414.9 544 414.9 544.7 413ZM600.4 435.4C600.1 437.2 600.1 437.2 599.2 438.7C598.2 440.2 598.2 440.2 596.9 440.9C595.6 441.6 595.6 441.6 594.3 441.4C593 441.2 593 441.2 592 440C591 438.9 591 438.9 590.6 437.2C590.3 435.5 590.3 435.5 590.6 433.6C590.9 431.8 590.9 431.8 591.8 430.3C592.8 428.8 592.8 428.8 594.1 428.1C595.4 427.4 595.4 427.4 596.7 427.6C598 427.8 598 427.8 599 429C600 430.1 600 430.1 600.4 431.8C600.7 433.5 600.7 433.5 600.4 435.4ZM609.2 436.3C610.1 433.4 609.8 433.7 611.7 432.5C613.6 431.3 614.3 431 616.3 431.7C618.3 432.3 618.5 432.8 619.2 435C619.8 437.2 619.8 437.9 618.7 440C617.6 442.1 617.1 441.7 615 443C612.9 444.3 612.4 442.5 610.8 445C609.3 447.5 610.7 449.3 609.2 452.5C607.6 455.7 607.1 456 605 457C602.9 458 602.6 457.5 601.3 456.3C600.1 455.1 599.9 454.9 600.3 452.5C600.8 450.1 600.9 449.9 603 447.5C605.1 445.1 606.7 446.3 608.3 443.3C610 440.4 608.3 439.2 609.2 436.3ZM615 457.5C616 454.6 616.5 454.4 618.3 453.3C620.2 452.2 620.2 452.2 622 453.3C623.8 454.4 624.4 455.1 625 457.5C625.6 459.9 625.5 460.1 624.2 462.5C622.8 464.9 622.1 465 620 466.3C617.9 467.7 617.8 468.1 616.3 467.5C614.9 466.9 614.9 466.8 614.5 464.2C614.1 461.5 614 460.4 615 457.5ZM633.3 469.2C633.5 466.9 634.4 466.5 635.8 465.8C637.3 465.2 637.1 464.9 638.7 466.7C640.2 468.4 640.4 469.2 641.7 472.5C642.9 475.8 643.3 476.8 643.3 479.2C643.3 481.5 642.9 481.6 641.7 481.3C640.4 481.1 640.4 480.2 638.7 478.3C637 476.4 636.8 476.6 635.3 474.2C633.9 471.7 633.2 471.4 633.3 469.2ZM669.2 471.7C668.7 473.2 668.6 473.2 667.5 474.3C666.4 475.4 666.4 475.4 665.1 475.7C663.7 476.1 663.7 476.1 662.5 475.6C661.2 475.2 661.2 475.2 660.4 474C659.6 472.9 659.6 472.9 659.4 471.3C659.2 469.8 659.3 469.8 659.8 468.3C660.3 466.8 660.4 466.8 661.5 465.7C662.6 464.6 662.6 464.6 663.9 464.3C665.3 463.9 665.3 463.9 666.5 464.4C667.8 464.8 667.8 464.8 668.6 466C669.4 467.1 669.4 467.1 669.6 468.7C669.8 470.2 669.7 470.2 669.2 471.7ZM681.8 484.3C681.8 485 681.8 485 681.5 485.6C681.3 486.2 681.2 486.2 680.8 486.5C680.3 486.8 680.2 486.8 679.7 486.8C679.1 486.8 679.1 486.8 678.6 486.5C678.1 486.2 678.1 486.2 677.8 485.6C677.5 485 677.5 485 677.5 484.3C677.5 483.7 677.5 483.7 677.8 483.1C678.1 482.5 678.1 482.5 678.6 482.2C679.1 481.8 679.1 481.8 679.7 481.8C680.2 481.8 680.3 481.8 680.8 482.2C681.2 482.5 681.3 482.5 681.5 483.1C681.8 483.7 681.8 483.7 681.8 484.3ZM702 444.2C702.7 440 702.5 440.8 705 437C707.5 433.2 708 432.7 711.3 430C714.7 427.3 713.2 427.8 717.5 427C721.8 426.2 723.6 426.1 727.5 427C731.4 427.9 730.9 428.4 732 430.3C733.1 432.2 733.1 432.5 731.7 434.2C730.2 435.9 730 435.1 726.7 436.7C723.3 438.2 722.5 436.7 719.2 440C715.8 443.3 716.3 445.4 714.2 449.2C712.1 452.9 713.6 452.3 711.3 454.2C709.1 456.1 708.2 456.8 705.8 456.3C703.5 455.9 703.5 455.7 702.5 452.5C701.5 449.3 701.3 448.3 702 444.2ZM742.5 441.7C742.7 438.5 743.4 438.1 745 435C746.6 431.9 747 431.3 748.7 430C750.4 428.7 750.4 428.7 751.3 430C752.2 431.3 752.3 431.7 752 435C751.7 438.3 751.5 439.4 750.3 442.5C749.1 445.6 749.1 445.5 747.5 446.7C745.9 447.9 745.5 448.3 744.2 447C742.8 445.7 742.3 444.9 742.5 441.7ZM720.8 470.8C721.3 468.9 721.7 468.7 724.2 468.7C726.6 468.7 727.3 469.1 730 470.8C732.7 472.5 733.3 472.9 734.2 475C735.1 477.1 734.9 477.8 733.3 478.7C731.8 479.6 731.2 479.1 728.3 478.3C725.4 477.6 724.5 477.8 722.5 475.8C720.5 473.8 720.4 472.7 720.8 470.8ZM740 490.8C741.6 487.2 742.4 487.8 744.2 488C745.9 488.2 746.2 488.5 746.7 491.7C747.1 494.9 746.7 495.6 745.8 500C744.9 504.4 744.4 504.1 743.3 508.3C742.3 512.6 743.3 513.4 742 515.8C740.7 518.3 740 517.7 738.3 517.5C736.7 517.3 736.3 517.4 735.8 515C735.4 512.6 736 511.9 736.7 508.3C737.3 504.8 737.4 506.3 738.3 501.7C739.2 497 738.4 494.5 740 490.8ZM728.9 507.3C728.7 508.8 728.7 508.8 728 510.1C727.2 511.3 727.2 511.3 726.3 512C725.3 512.6 725.3 512.6 724.3 512.4C723.4 512.2 723.3 512.2 722.6 511.3C722 510.4 721.9 510.4 721.7 509C721.5 507.6 721.5 507.6 721.7 506C722 504.5 722 504.5 722.7 503.2C723.4 502 723.4 502 724.4 501.4C725.4 500.8 725.4 500.7 726.4 500.9C727.3 501.1 727.3 501.1 728 502C728.7 502.9 728.7 502.9 729 504.4C729.2 505.8 729.2 505.8 728.9 507.3ZM751 474.2C751 474.3 751 474.3 750.8 474.5C750.6 474.7 750.6 474.7 750.3 474.7C750 474.8 750 474.8 749.7 474.8C749.3 474.8 749.3 474.8 749 474.7C748.7 474.7 748.7 474.7 748.5 474.5C748.3 474.3 748.3 474.3 748.3 474.2C748.3 474 748.3 474 748.5 473.8C748.7 473.7 748.7 473.7 749 473.6C749.3 473.5 749.3 473.5 749.7 473.5C750 473.5 750 473.5 750.3 473.6C750.6 473.7 750.6 473.7 750.8 473.8C751 474 751 474 751 474.2ZM752.8 515C752.7 512.3 753.4 512.2 755.3 510.8C757.2 509.5 757 509.6 760 510C763 510.4 763.3 511.7 766.7 512.5C770 513.3 770.4 511.7 772.5 513C774.6 514.3 774.4 514.7 774.5 517.5C774.6 520.3 774.4 520.7 773 523.3C771.6 526 770.6 524.8 769.2 527.5C767.7 530.2 768.6 531.3 767.5 533.3C766.4 535.3 766.2 535.4 765 535C763.8 534.6 763.9 534.1 763 531.7C762.1 529.2 763.6 528.7 761.7 525.8C759.8 522.9 758.2 523.7 755.8 520.8C753.5 517.9 753 517.7 752.8 515ZM792 481.7C792 479.9 793.6 479.1 796.7 476.7C799.7 474.2 799.3 474.1 803.3 472.5C807.3 470.9 807.4 470.8 811.7 470.8C815.9 470.8 816.9 471.2 819.2 472.5C821.5 473.8 821.9 474.1 820.3 475.8C818.8 477.6 817.4 477.8 813.3 479.2C809.2 480.5 809.4 479.7 805 480.8C800.6 481.9 800.1 483.1 796.7 483.3C793.2 483.6 792 483.4 792 481.7ZM789.8 485.5C789.8 485.7 789.8 485.7 789.7 485.8C789.7 486 789.7 486 789.5 486.1C789.3 486.2 789.3 486.2 789.2 486.2C789 486.2 789 486.2 788.8 486.1C788.7 486 788.7 486 788.6 485.8C788.5 485.7 788.5 485.7 788.5 485.5C788.5 485.3 788.5 485.3 788.6 485.2C788.7 485 788.7 485 788.8 484.9C789 484.8 789 484.8 789.2 484.8C789.3 484.8 789.3 484.8 789.5 484.9C789.7 485 789.7 485 789.7 485.2C789.8 485.3 789.8 485.3 789.8 485.5ZM810 501.3C810.4 499.7 811.3 498.8 813.3 497.5C815.3 496.2 816.1 495.9 817.5 496.3C818.9 496.8 819.3 497.5 818.7 499.2C818 500.8 816.9 501.3 815 502.5C813.1 503.7 813 504 811.7 503.7C810.3 503.4 809.6 503 810 501.3ZM809.3 506.7C809.3 506.9 809.3 506.9 809.2 507.1C809.2 507.3 809.2 507.3 809 507.4C808.8 507.5 808.8 507.5 808.7 507.5C808.5 507.5 808.5 507.5 808.3 507.4C808.2 507.3 808.2 507.3 808.1 507.1C808 506.9 808 506.9 808 506.7C808 506.4 808 506.4 808.1 506.2C808.2 506.1 808.2 506.1 808.3 505.9C808.5 505.8 808.5 505.8 808.7 505.8C808.8 505.8 808.8 505.8 809 505.9C809.2 506.1 809.2 506.1 809.2 506.2C809.3 506.4 809.3 506.4 809.3 506.7ZM832.5 506.7C832.5 505.3 833.1 504.2 834.2 503C835.3 501.8 836.1 501.4 836.7 502C837.2 502.6 837 503.7 836.3 505.3C835.7 506.9 835.2 507.6 834.2 508C833.1 508.4 832.5 508 832.5 506.7ZM832.5 534.2C832.8 533.1 833.5 532.3 834.7 531.7C835.9 531 836.7 530.9 837 531.7C837.3 532.5 836.7 533.6 835.8 534.7C834.9 535.8 834.6 536 833.7 535.8C832.8 535.7 832.2 535.3 832.5 534.2ZM788.7 546.7C788.7 543.3 789.4 543.1 790.8 540.8C792.3 538.5 792.4 538.4 794.2 538C795.9 537.6 796.3 537.7 797.5 539.2C798.7 540.6 798.7 540.4 798.7 543.3C798.7 546.2 798.3 546.7 797.5 550C796.7 553.3 796.9 554.1 795.8 555.8C794.7 557.6 794.7 557.3 793.3 556.7C792 556 792.1 556 790.8 553.3C789.6 550.7 788.7 550 788.7 546.7ZM832 535C832 533.8 832.4 532.8 833.7 531.7C834.9 530.6 836.1 530.2 836.7 530.8C837.2 531.5 836.6 532.7 835.8 534.2C835 535.6 834.7 536.1 833.7 536.3C832.6 536.6 832 536.2 832 535ZM824.2 552.5C824.5 551.3 825.2 550.1 826.3 550.3C827.4 550.6 828.2 551.9 828.3 553.3C828.5 554.8 827.9 555.4 827 555.8C826.1 556.3 825.8 555.9 825 555C824.2 554.1 823.8 553.7 824.2 552.5ZM869.2 543.3C869.3 541.8 870.1 540.3 871.3 538.8C872.5 537.4 873.2 537.3 873.7 538C874.1 538.7 873.8 539.6 873 541.3C872.2 543.1 871.9 544.1 870.8 544.7C869.8 545.2 869 544.9 869.2 543.3ZM882.5 530.8C882.9 528.9 883 528.7 885 527.5C887 526.3 887.4 525.9 890 526.2C892.6 526.4 893.1 526.4 894.7 528.3C896.2 530.2 894.9 529.8 895.8 533.3C896.8 536.9 897.2 538.1 898.3 541.7C899.4 545.2 900.2 544.5 900 546.7C899.8 548.8 899.3 549.3 897.5 549.7C895.7 550 895.1 549.9 893.3 548C891.6 546.1 892.7 545.2 890.8 542.5C889 539.8 888.3 540.1 886.3 538C884.3 535.9 884.4 536.6 883.3 534.7C882.3 532.8 882.1 532.7 882.5 530.8ZM905 553.3C905.3 550.8 905.7 550.1 907.5 548.3C909.3 546.6 909.7 546.4 911.7 546.7C913.7 546.9 913.9 546.9 915 549.2C916.1 551.4 916.3 552.1 915.8 555C915.4 557.9 915.1 558.4 913.3 560C911.6 561.6 911 561.4 909.2 560.8C907.3 560.3 907.4 560 906.3 558C905.2 556 904.7 555.9 905 553.3ZM869.2 587.5C869.4 585.7 871.2 585.8 872.5 586.7C873.8 587.6 874.4 589.1 874.2 590.8C873.9 592.6 873 594.2 871.7 593.3C870.3 592.4 868.9 589.3 869.2 587.5ZM808.3 640C808.2 636.9 808.6 637.2 810.8 635.8C813.1 634.5 813.1 636.2 816.7 635C820.2 633.8 820.4 633.6 824.2 631.3C827.9 629.1 827.1 628.1 830.8 626.7C834.6 625.2 834.1 625.6 838.3 625.8C842.6 626.1 842.9 625.9 846.7 627.5C850.4 629.1 850.3 630.1 852.5 631.7C854.7 633.2 853.9 635.6 855 633.3C856.1 631.1 855.1 627.3 856.7 623.3C858.2 619.3 857.7 620.6 860.8 618.3C863.9 616.1 865.2 616.3 868.3 615C871.4 613.7 871.2 612.2 872.5 613.3C873.8 614.4 874 616.1 873.3 619.2C872.7 622.3 871.3 622.1 870 625C868.7 627.9 867.4 629.1 868.3 630C869.2 630.9 870.4 628.6 873.3 628.3C876.2 628.1 876.9 627.4 879.2 629.2C881.4 630.9 880.8 631.7 881.7 635C882.6 638.3 881.8 638.3 882.5 641.7C883.2 645 884.4 645.1 884.2 647.5C883.9 649.9 883.7 649.5 881.7 650.8C879.7 652.2 879.6 652.7 876.7 652.5C873.8 652.3 873.9 651.1 870.8 650C867.7 648.9 867.9 649 865 648.3C862.1 647.7 863.1 647.5 860 647.5C856.9 647.5 855.6 647.2 853.3 648.3C851 649.4 851.6 648.6 851.3 651.7C851.1 654.8 852.9 656.2 852.5 660C852.1 663.8 852 663.7 850 665.8C848 668 847.4 668.2 845 668C842.6 667.8 842.5 667.4 840.8 665C839.1 662.6 840.2 662.3 838.7 659.2C837.1 656.1 838.2 655.3 835 653.3C831.8 651.3 830.7 651.3 826.7 651.7C822.7 652 822.9 654.2 820 654.7C817.1 655.1 818.1 655.2 815.8 653.3C813.5 651.4 813.3 651.1 811.3 647.5C809.3 643.9 808.5 643.1 808.3 640ZM795.3 664.7C795.7 663 795.9 662.9 797.5 663C799.1 663.1 798.7 662.7 801.3 665C804 667.3 804.5 668.1 807.5 671.7C810.5 675.2 811 675.8 812.5 678.3C814 680.9 813.7 680.5 813 681.3C812.3 682.1 812.6 682.1 810 681.3C807.4 680.5 806.4 680.5 803.3 678.3C800.3 676.2 800.6 675.8 798.7 673.3C796.8 670.9 797.1 671.5 796.2 669.2C795.3 666.9 795 666.3 795.3 664.7ZM913 603.3C912.6 601.4 914.2 600.4 915.8 597.5C917.5 594.6 918 595.6 919.2 592.5C920.4 589.4 918.9 588.6 920.3 585.8C921.8 583.1 922.2 583 924.7 582.2C927.2 581.3 927.4 581.5 929.7 582.7C931.9 583.9 931.9 583.8 933 586.7C934.1 589.5 933.7 589.1 933.7 593.3C933.7 597.6 934.1 598.7 933 602.5C931.9 606.3 931.4 605.7 929.7 607.5C927.9 609.3 928.2 609.6 926.3 609.2C924.4 608.7 924.9 607 922.5 605.8C920.1 604.6 920 605.3 917.5 604.7C915 604 913.4 605.2 913 603.3ZM892.5 686.7C892.6 684.5 892.9 683.9 894.7 682C896.4 680.1 896.5 680.3 899.2 679.7C901.8 679 902.2 678.9 904.7 679.7C907.1 680.4 907 680.6 908.3 682.5C909.6 684.4 909.7 684 909.5 686.7C909.3 689.3 908.9 690.3 907.5 692.5C906.1 694.7 906.4 695 904.2 695C901.9 695 901.8 693.8 899.2 692.5C896.5 691.2 895.9 691.6 894.2 690C892.4 688.4 892.4 688.8 892.5 686.7ZM847.2 496.1C847.5 494.6 847.6 493.9 848.9 492.8C850.2 491.7 850.1 492.2 852.2 491.9C854.3 491.7 854.4 491.4 856.7 491.9C858.9 492.5 858.5 492 860.6 493.9C862.6 495.7 862.2 496.2 864.4 498.9C866.7 501.6 867.9 501.8 868.9 503.9C869.9 506 869.2 505 868.3 506.7C867.4 508.3 866.7 508.2 865.6 510C864.4 511.8 864.1 511.6 863.9 513.3C863.7 515.1 865 514.6 864.7 516.7C864.4 518.7 864.3 519.2 862.8 521.1C861.2 523 861 523.3 858.9 523.9C856.8 524.5 856.5 524.4 855 523.3C853.5 522.3 853.8 522.4 853.3 520C852.9 517.6 852.9 516.5 853.3 514.4C853.8 512.4 853.4 513.3 855 512.2C856.6 511.1 857.8 511.6 859.4 510.3C861.1 508.9 861.3 508.6 861.1 507.2C861 505.8 860.7 506 858.9 505C857.1 504 856.8 504.5 854.4 503.3C852.1 502.1 851.8 501.9 850 500.6C848.2 499.2 848.5 499.5 847.8 498.3C847 497.1 846.9 497.6 847.2 496.1Z"/>
<path fill="#ffffff" d="M734.7 504.2C734.7 504.8 734.7 504.8 734.5 505.3C734.4 505.9 734.4 505.9 734.2 506.2C733.9 506.5 733.9 506.5 733.7 506.5C733.4 506.5 733.4 506.5 733.2 506.2C732.9 505.9 732.9 505.9 732.8 505.3C732.7 504.8 732.7 504.8 732.7 504.2C732.7 503.5 732.7 503.5 732.8 503C732.9 502.5 732.9 502.5 733.2 502.1C733.4 501.8 733.4 501.8 733.7 501.8C733.9 501.8 733.9 501.8 734.2 502.1C734.4 502.5 734.4 502.5 734.5 503C734.7 503.5 734.7 503.5 734.7 504.2ZM854.4 506C855.3 505.1 857.3 505.8 858.1 506.4C858.8 507 858.1 507.4 857.2 508.3C856.3 509.3 855.5 510.5 854.7 509.9C854 509.3 853.5 506.9 854.4 506Z"/>
<path fill="#0000ff" d="M569.2 302.5C569.6 300.3 569.4 299.1 572.5 297.5C575.6 295.9 577.1 295.7 580.8 296.3C584.6 297 583.8 297 586.7 300C589.6 303 588.6 304.6 591.7 307.5C594.8 310.4 595.2 310.4 598.3 310.8C601.4 311.3 601 308.9 603.3 309.2C605.6 309.4 605.6 308.3 607 311.7C608.4 315 609 317.4 608.7 321.7C608.4 325.9 608.1 325.4 605.8 327.5C603.5 329.6 602.9 329.9 600 329.7C597.1 329.4 596.8 329.2 595 326.7C593.2 324.1 594.9 323.8 593.3 320C591.8 316.2 591.6 315.4 589.2 312.5C586.7 309.6 587.5 310.6 584.2 309.2C580.8 307.7 580.2 307.9 576.7 307C573.1 306.1 572.8 307 570.8 305.8C568.8 304.6 568.7 304.7 569.2 302.5ZM632 316.7C632.7 315.1 632.4 313.9 635 314.2C637.6 314.4 637.7 315.9 641.7 317.5C645.7 319.1 645.6 317.6 650 320C654.4 322.4 655.2 323.3 658.3 326.7C661.4 330 661 329.8 661.7 332.5C662.3 335.2 662.4 335.3 660.8 336.7C659.3 338 659.2 338.2 655.8 337.5C652.5 336.8 652.6 336.4 648.3 334.2C644.1 331.9 643.6 331.6 640 329.2C636.4 326.7 637 327.4 635 325C633 322.6 633.3 322.2 632.5 320C631.7 317.8 631.3 318.2 632 316.7ZM642.2 345.8C642.2 346.3 642.2 346.3 641.9 346.8C641.6 347.2 641.6 347.2 641.1 347.4C640.6 347.7 640.6 347.7 640 347.7C639.4 347.7 639.4 347.7 638.9 347.4C638.4 347.2 638.4 347.2 638.1 346.8C637.8 346.3 637.8 346.3 637.8 345.8C637.8 345.3 637.8 345.3 638.1 344.9C638.4 344.5 638.4 344.5 638.9 344.2C639.4 344 639.4 344 640 344C640.6 344 640.6 344 641.1 344.2C641.6 344.5 641.6 344.5 641.9 344.9C642.2 345.3 642.2 345.3 642.2 345.8ZM612.2 354.2C612.5 351.6 613.2 351.5 614.7 352.2C616.1 352.8 615.6 353.2 617.5 356.7C619.4 360.1 620.3 361.2 621.7 365C623 368.8 623.2 368.7 622.5 370.8C621.8 373 621.1 373.2 619.2 373C617.3 372.8 616.9 373 615.3 370C613.8 367 614.2 365.9 613.3 361.7C612.5 357.4 611.8 356.7 612.2 354.2ZM625 380C625.1 377.8 626.3 376.1 627.5 375.8C628.7 375.6 629.8 376.9 629.7 379.2C629.6 381.4 628.4 383.9 627.2 384.2C625.9 384.4 624.9 382.2 625 380ZM548.7 413C549.1 412.4 548.9 412.9 550.8 413.7C552.7 414.4 552.7 415.6 555.8 415.8C558.9 416.1 558.7 413.6 562.5 414.7C566.3 415.8 566 416.8 570 420C574 423.2 575.1 423.6 577.5 426.7C579.9 429.8 579.5 429.5 579.2 431.7C578.9 433.8 578.3 434.1 576.3 434.7C574.3 435.2 574.2 435.5 571.7 433.8C569.1 432.1 570.4 431.7 566.7 428.3C562.9 425 561.1 424 557.5 421.3C553.9 418.7 555.6 419.8 553.3 418.3C551.1 416.9 550.4 417.3 549.2 415.8C547.9 414.4 548.2 413.6 548.7 413ZM599.7 434.3C599.7 435.8 599.7 435.8 599.1 437C598.6 438.2 598.6 438.2 597.7 438.9C596.7 439.7 596.7 439.7 595.7 439.7C594.6 439.7 594.6 439.7 593.7 438.9C592.7 438.2 592.7 438.2 592.2 437C591.7 435.8 591.7 435.8 591.7 434.3C591.7 432.9 591.7 432.9 592.2 431.7C592.7 430.4 592.7 430.4 593.7 429.7C594.6 429 594.6 429 595.7 429C596.7 429 596.7 429 597.7 429.7C598.6 430.4 598.6 430.4 599.1 431.7C599.7 432.9 599.7 432.9 599.7 434.3ZM618.8 437.2C618.8 438.6 618.8 438.6 618.2 439.8C617.6 441.1 617.6 441.1 616.5 441.8C615.4 442.5 615.4 442.5 614.2 442.5C612.9 442.5 612.9 442.5 611.8 441.8C610.8 441.1 610.8 441.1 610.1 439.8C609.5 438.6 609.5 438.6 609.5 437.2C609.5 435.7 609.5 435.7 610.1 434.5C610.8 433.3 610.8 433.3 611.8 432.6C612.9 431.8 612.9 431.8 614.2 431.8C615.4 431.8 615.4 431.8 616.5 432.6C617.6 433.3 617.6 433.3 618.2 434.5C618.8 435.7 618.8 435.7 618.8 437.2ZM616.3 458.3C617 455.7 617.7 455.6 619.2 454.7C620.6 453.8 620.5 454 621.7 455C622.9 456 623.4 456.3 623.7 458.3C623.9 460.3 623.7 460.7 622.5 462.5C621.3 464.3 620.7 464.4 619.2 465C617.6 465.6 617.4 466.4 616.7 464.7C615.9 462.9 615.7 461 616.3 458.3ZM638.2 470.3C638.2 470.5 638.2 470.5 638 470.6C637.9 470.7 637.9 470.7 637.7 470.8C637.4 470.8 637.4 470.8 637.2 470.8C636.9 470.8 636.9 470.8 636.7 470.8C636.4 470.7 636.4 470.7 636.3 470.6C636.2 470.5 636.2 470.5 636.2 470.3C636.2 470.2 636.2 470.2 636.3 470.1C636.4 470 636.4 470 636.7 469.9C636.9 469.8 636.9 469.8 637.2 469.8C637.4 469.8 637.4 469.8 637.7 469.9C637.9 470 637.9 470 638 470.1C638.2 470.2 638.2 470.2 638.2 470.3ZM668 471.2C667.6 472.3 667.5 472.3 666.7 473.1C665.9 473.9 665.9 473.9 664.9 474.1C663.9 474.4 663.9 474.4 663 474.1C662.1 473.7 662.1 473.7 661.5 472.9C660.9 472.1 660.9 472.1 660.8 470.9C660.7 469.8 660.7 469.8 661 468.8C661.4 467.7 661.5 467.7 662.3 466.9C663.1 466.1 663.1 466.1 664.1 465.9C665.1 465.6 665.1 465.6 666 465.9C666.9 466.3 666.9 466.3 667.5 467.1C668.1 467.9 668.1 467.9 668.2 469.1C668.3 470.2 668.3 470.2 668 471.2ZM703.3 445C704 441.8 703.7 441.8 706.3 438.7C709 435.6 710.4 435.9 713.3 433.3C716.3 430.8 714.4 430.4 717.5 429.2C720.6 427.9 722.1 428.2 725 428.7C727.9 429.1 728.3 429.2 728.3 430.8C728.3 432.4 727.7 432.9 725 434.7C722.3 436.4 721.2 435.2 718.3 437.5C715.4 439.8 715.7 440 714.2 443.3C712.6 446.7 713.6 447.3 712.5 450C711.4 452.7 711.8 452.1 710 453.3C708.2 454.6 707.5 455.3 705.8 454.7C704.1 454 704.3 453.4 703.7 450.8C703 448.3 702.6 448.2 703.3 445ZM744.7 440C744.9 437.9 745.6 437.6 746.7 435.8C747.7 434.1 747.9 432.9 748.7 433.3C749.5 433.8 749.8 435.1 749.7 437.5C749.6 439.9 749.4 440.9 748.3 442.5C747.3 444.1 746.8 444.3 745.8 443.7C744.9 443 744.4 442.1 744.7 440ZM735.8 513C735.8 510.3 737.3 508 739.2 508C741.1 508 743 510.3 743 513C743 515.7 741.1 518 739.2 518C737.3 518 735.8 515.7 735.8 513ZM754.5 514.7C754.7 513.2 755 512.7 756.7 512C758.4 511.3 758.2 511.4 760.8 512C763.5 512.6 763.9 513.4 766.7 514.2C769.5 515 769.8 513.7 771.3 515C772.9 516.3 772.6 516.9 772.5 519.2C772.4 521.4 772.4 521.6 770.8 523.3C769.3 525.1 768.7 525.4 766.7 525.8C764.7 526.3 765.3 526.3 763.3 525C761.3 523.7 761.2 522.8 759.2 520.8C757.2 518.8 757.1 519.1 755.8 517.5C754.6 515.9 754.3 516.1 754.5 514.7ZM809.2 474.7C810.1 473.9 814.9 473.5 815.8 474.2C816.7 474.8 814.3 476.9 812.5 477C810.7 477.1 808.3 475.4 809.2 474.7ZM790.8 546.7C790.7 544.4 791.3 543.9 792.5 542C793.7 540.1 794.1 539.5 795.3 539.7C796.5 539.8 796.9 540.4 797 542.5C797.1 544.6 796.9 545.4 795.8 547.5C794.8 549.6 794.3 550.6 793 550.3C791.7 550.1 791 548.9 790.8 546.7ZM884.2 530.8C884.5 529.1 884.9 528.9 886.7 528C888.4 527.1 888.8 526.7 890.8 527.5C892.8 528.3 893.1 528.6 894.2 530.8C895.2 533.1 895.1 533.5 894.7 535.8C894.2 538.2 894.2 539.1 892.5 539.7C890.8 540.2 890.2 539.3 888.3 538C886.4 536.7 886.4 536.6 885.3 534.7C884.2 532.8 883.8 532.6 884.2 530.8ZM906.7 554.2C907 552.2 907.3 551.3 908.7 550C910 548.7 910.3 548.5 911.7 549.2C913 549.8 913.3 550.3 913.7 552.5C914 554.7 914 555.6 913 557.5C912 559.4 911.5 559.7 910 559.7C908.5 559.7 908.4 559 907.5 557.5C906.6 556 906.4 556.2 906.7 554.2ZM810 640C810 637.4 810.5 637.9 812.5 637C814.5 636.1 814.2 637.9 817.5 636.7C820.8 635.5 821.2 634.7 825 632.5C828.8 630.3 828.1 629.7 831.7 628.3C835.2 627 834.3 627.3 838.3 627.5C842.3 627.7 843.1 627.4 846.7 629.2C850.2 630.9 849.9 631.3 851.7 634.2C853.4 637.1 852.2 639.3 853.3 640C854.4 640.7 854.5 640.7 855.8 636.7C857.2 632.7 857 629.2 858.3 625C859.7 620.8 859.3 621.7 860.8 620.8C862.4 619.9 863.1 618.8 864.2 621.7C865.3 624.6 864.3 627.7 865 631.7C865.7 635.7 866.9 633.3 866.7 636.7C866.4 640 865.9 641.5 864.2 644.2C862.4 646.8 862.4 646.7 860 646.7C857.6 646.7 857.2 643.7 855 644.2C852.8 644.6 852.8 645.9 851.7 648.3C850.6 650.8 850.8 650.2 850.8 653.3C850.8 656.4 852.1 656.9 851.7 660C851.2 663.1 850.9 663.2 849.2 665C847.4 666.8 847 667 845 666.7C843 666.3 843.1 665.9 841.7 663.7C840.2 661.4 841.2 661.3 839.7 658.3C838.1 655.4 839.3 654.6 835.8 652.5C832.4 650.4 830.9 650.3 826.7 650.5C822.4 650.7 822.7 652.9 820 653.3C817.3 653.7 818.7 653.8 816.7 652C814.7 650.2 814.3 649.9 812.5 646.7C810.7 643.5 810 642.6 810 640ZM869.2 643.3C868.9 639.9 869.1 638.5 870 635C870.9 631.5 870.7 631.8 872.5 630.3C874.3 628.9 874.7 628.9 876.7 629.7C878.7 630.5 879 630.1 880 633.3C881 636.5 879.9 638 880.3 641.7C880.8 645.3 882.1 644.8 881.7 647C881.2 649.2 880.7 649.1 878.7 650C876.7 650.9 876.3 650.9 874.2 650.3C872.1 649.8 872.2 649.9 870.8 648C869.5 646.1 869.4 646.8 869.2 643.3ZM798 668.3C798.2 666.9 798.5 666.3 800 666.7C801.5 667 801.7 667.7 803.7 669.7C805.7 671.7 806.7 672.3 807.5 674.2C808.3 676 808 676.4 806.7 676.7C805.3 677 804.5 676.6 802.5 675.3C800.5 674.1 800.4 673.9 799.2 672C798 670.1 797.8 669.8 798 668.3ZM919.7 596.7C919.1 592.4 919.5 591 920.8 587.5C922.2 584 922.4 584.6 924.7 583.7C926.9 582.8 927.3 583.1 929.2 584.2C931 585.2 930.8 585.1 931.7 587.5C932.6 589.9 932.5 589.6 932.5 593.3C932.5 597.1 932.6 598.3 931.7 601.7C930.8 605 930.6 604.5 929.2 605.8C927.7 607.2 928 607.3 926.3 606.7C924.7 606 924.8 606 923 603.3C921.2 600.7 920.2 600.9 919.7 596.7ZM896.7 685.8C896.2 683.8 897.2 683.4 899.2 682.5C901.2 681.6 902.2 681.6 904.2 682.5C906.2 683.4 906.4 684.1 906.7 685.8C906.9 687.6 906.6 688.1 905 689.2C903.4 690.3 903.1 690.9 900.8 690C898.6 689.1 897.1 687.8 896.7 685.8ZM850.8 495.6C851.1 494.7 851.2 494.9 853.3 494.7C855.5 494.6 856.9 494 858.9 495C860.9 496 860.5 497.1 860.8 498.3C861.1 499.6 860.8 499.1 860 499.7C859.2 500.3 859.3 500.6 857.8 500.6C856.3 500.5 855.9 500.2 854.4 499.4C853 498.7 853.2 498.8 852.2 497.8C851.3 496.7 850.5 496.4 850.8 495.6ZM862.5 519.5C862.2 520.8 862.2 520.8 861.3 521.8C860.4 522.8 860.4 522.8 859.3 523.2C858.1 523.6 858.1 523.6 857 523.3C855.9 523 855.9 523 855.1 522C854.3 521.1 854.3 521.1 854 519.8C853.8 518.5 853.8 518.5 854.1 517.2C854.5 515.9 854.5 515.9 855.4 514.9C856.2 513.9 856.2 513.9 857.4 513.5C858.5 513.1 858.5 513.1 859.7 513.4C860.8 513.7 860.8 513.7 861.6 514.6C862.4 515.5 862.4 515.6 862.6 516.8C862.9 518.1 862.9 518.1 862.5 519.5ZM583 410.5C583.7 409.2 583.1 408.7 585.5 408C587.9 407.3 589.5 408.3 592 408C594.5 407.7 594.2 408.1 595 407C595.8 405.9 594.6 405.3 595 404C595.4 402.7 595.3 402.5 596.5 402C597.7 401.5 596 399.5 599.5 402C603 404.5 606.9 412.3 609.5 411.5C612.1 410.7 608.6 403.5 609.2 399C609.9 394.5 610.2 396.1 612 394.5C613.8 392.9 613.3 393.4 616 393C618.7 392.6 619.5 391.8 622 393C624.5 394.2 624.3 394 625.5 397.5C626.7 401 626.9 402.4 626.5 406C626.1 409.6 625.9 408.6 624 411C622.1 413.4 621.9 413.8 619.5 415C617.1 416.2 617 415.8 615 415.5C613 415.2 613.5 413.6 612 414C610.5 414.4 611.4 415.9 609.5 417C607.6 418.1 607.1 418.8 605 418C602.9 417.2 602.6 416.1 601.5 414C600.4 411.9 602.3 411.5 601 410C599.7 408.5 598.1 407.2 596.5 408.5C594.9 409.8 595.9 412.5 595 415C594.1 417.5 594.6 416.8 593 418C591.4 419.2 591.1 419.9 589 419.5C586.9 419.1 586.6 418.2 585 416.5C583.4 414.8 583.5 414.6 583 413C582.5 411.4 582.3 411.8 583 410.5Z"/>
<path fill="#00ff00" d="M570.5 302.5C570.7 300.7 570.8 300 573.3 298.7C575.9 297.3 576.7 296.9 580 297.5C583.3 298.1 583.4 298.6 585.8 300.8C588.3 303.1 588.4 303.4 589.2 305.8C589.9 308.3 589.8 309.1 588.7 310C587.6 310.9 587.8 310.1 585 309.2C582.2 308.3 581.7 307.7 578.3 306.7C575 305.6 574.6 306.4 572.5 305.3C570.4 304.2 570.3 304.3 570.5 302.5ZM595 315C596.2 312.6 596.7 311.9 599.2 310.8C601.6 309.7 602.1 309.5 604.2 310.8C606.3 312.2 606.1 312.7 607 315.8C607.9 318.9 608 319.4 607.5 322.5C607 325.6 607 325.9 605 327.5C603 329.1 602.3 329.3 600 328.7C597.7 328 597.8 327.3 596.3 325C594.9 322.7 595 322.7 594.7 320C594.3 317.3 593.8 317.4 595 315ZM635 320.8C635.7 319.2 636.1 319.1 639.2 318.8C642.3 318.5 642.9 318.5 646.7 319.7C650.4 320.9 650 320.6 653.3 323.3C656.7 326.1 657.5 327.1 659.2 330C660.9 332.9 660.6 332.7 659.7 334.2C658.8 335.6 658.6 335.8 655.8 335.3C653 334.9 652.9 334.4 649.2 332.5C645.4 330.6 645 330.3 641.7 328.3C638.3 326.3 638.4 327 636.7 325C634.9 323 634.3 322.5 635 320.8ZM613.8 359.2C614.2 357 614.4 356.1 615.8 357C617.3 357.9 617.6 359.5 619.2 362.5C620.7 365.5 621.4 365.9 621.7 368.3C621.9 370.8 621.3 371 620 371.7C618.7 372.3 618.1 372.6 616.7 370.8C615.2 369.1 615.3 368.1 614.5 365C613.7 361.9 613.5 361.3 613.8 359.2ZM554.2 417.5C554.8 415.9 555.7 415.4 558.3 415C561 414.6 560.8 414.1 564.2 415.8C567.5 417.6 567.3 418.6 570.8 421.7C574.4 424.8 575.5 424.7 577.5 427.5C579.5 430.3 578.8 430.2 578.3 432C577.9 433.8 577.6 433.9 575.8 434.2C574.1 434.4 573.9 434.8 571.7 433C569.4 431.2 570.6 430.2 567.5 427.5C564.4 424.8 563.1 424.8 560 423C556.9 421.2 557.4 422.3 555.8 420.8C554.3 419.4 553.5 419.1 554.2 417.5ZM598.8 434.2C598.8 435.2 598.8 435.2 598.4 436.2C598 437.1 598 437.1 597.3 437.6C596.6 438.2 596.6 438.2 595.8 438.2C595 438.2 595 438.2 594.3 437.6C593.6 437.1 593.6 437.1 593.2 436.2C592.8 435.2 592.8 435.2 592.8 434.2C592.8 433.1 592.8 433.1 593.2 432.2C593.6 431.2 593.6 431.2 594.3 430.7C595 430.2 595 430.2 595.8 430.2C596.6 430.2 596.6 430.2 597.3 430.7C598 431.2 598 431.2 598.4 432.2C598.8 433.1 598.8 433.1 598.8 434.2ZM617.8 437.2C617.8 438.3 617.8 438.3 617.3 439.3C616.9 440.3 616.8 440.3 616 440.9C615.2 441.5 615.1 441.5 614.2 441.5C613.2 441.5 613.2 441.5 612.3 440.9C611.5 440.3 611.5 440.3 611 439.3C610.5 438.3 610.5 438.3 610.5 437.2C610.5 436 610.5 436 611 435C611.5 434 611.5 434 612.3 433.4C613.2 432.8 613.2 432.8 614.2 432.8C615.1 432.8 615.2 432.8 616 433.4C616.8 434 616.9 434 617.3 435C617.8 436 617.8 436 617.8 437.2ZM617.5 458.3C618.1 456.3 618.6 455.9 619.7 455.5C620.8 455.1 620.9 455.5 621.7 456.7C622.4 457.9 622.9 458.2 622.5 460C622.1 461.8 621.3 462.5 620 463.3C618.7 464.1 618.2 464.3 617.5 463C616.8 461.7 616.9 460.3 617.5 458.3ZM666.9 470.8C666.6 471.6 666.6 471.6 666 472.1C665.5 472.6 665.5 472.6 664.9 472.8C664.2 473 664.2 473 663.6 472.8C663.1 472.6 663.1 472.6 662.7 472C662.3 471.5 662.3 471.5 662.2 470.7C662.2 470 662.2 470 662.5 469.2C662.7 468.4 662.7 468.4 663.3 467.9C663.8 467.4 663.8 467.4 664.5 467.2C665.1 467 665.1 467 665.7 467.2C666.3 467.4 666.3 467.4 666.6 468C667 468.5 667 468.5 667.1 469.3C667.1 470 667.1 470 666.9 470.8ZM716.7 432.5C716.9 430.9 717.9 430.2 720 429.7C722.1 429.1 723.8 429.1 724.7 430.3C725.6 431.5 724.8 432.7 723.3 434.2C721.9 435.6 720.9 436.3 719.2 435.8C717.4 435.4 716.4 434.1 716.7 432.5ZM704.7 445.8C705.4 442.9 705.4 441.9 707.5 440C709.6 438.1 711 437.6 712.5 438.7C714 439.8 713.4 440.9 713 444.2C712.6 447.4 712.3 448.3 710.8 450.8C709.4 453.4 709.1 453.7 707.5 453.7C705.9 453.7 705.4 452.9 704.7 450.8C703.9 448.7 703.9 448.7 704.7 445.8ZM747 441.7C747 441.9 747 441.9 746.9 442.1C746.8 442.3 746.8 442.3 746.6 442.4C746.4 442.5 746.4 442.5 746.2 442.5C745.9 442.5 745.9 442.5 745.8 442.4C745.6 442.3 745.6 442.3 745.4 442.1C745.3 441.9 745.3 441.9 745.3 441.7C745.3 441.4 745.3 441.4 745.4 441.2C745.6 441.1 745.6 441.1 745.8 440.9C745.9 440.8 745.9 440.8 746.2 440.8C746.4 440.8 746.4 440.8 746.6 440.9C746.8 441.1 746.8 441.1 746.9 441.2C747 441.4 747 441.4 747 441.7ZM737 513C737 511 737.9 509.2 739.2 509.2C740.4 509.2 741.7 511 741.7 513C741.7 515 740.4 516.7 739.2 516.7C737.9 516.7 737 515 737 513ZM756.2 514.2C755.9 512.7 756.9 513.1 758.3 513C759.8 512.9 759.4 513 761.7 513.7C763.9 514.3 764.2 514.7 766.7 515.5C769.1 516.3 769.6 515.5 770.8 516.7C772.1 517.9 771.8 518.2 771.3 520C770.9 521.8 770.6 522.2 769.2 523.3C767.7 524.4 767.6 524.4 765.8 524.2C764.1 523.9 764.3 524.1 762.5 522.5C760.7 520.9 760.9 520.6 759.2 518.3C757.5 516.1 756.4 515.6 756.2 514.2ZM792 546.3C792.3 545 793.1 543.2 794.2 542C795.2 540.8 795.6 540.8 795.8 541.7C796.1 542.6 795.8 543.9 795 545.3C794.2 546.8 793.8 546.7 793 547C792.2 547.3 791.7 547.7 792 546.3ZM893.5 532.1C893.9 533.3 893.9 533.3 893.8 534.4C893.7 535.6 893.7 535.6 893.1 536.5C892.5 537.4 892.5 537.4 891.6 537.7C890.7 538.1 890.7 538.1 889.7 537.8C888.6 537.5 888.6 537.5 887.8 536.6C887 535.8 887 535.8 886.5 534.6C886.1 533.4 886.1 533.4 886.2 532.2C886.3 531 886.3 531 886.9 530.2C887.5 529.3 887.5 529.3 888.4 529C889.3 528.6 889.3 528.6 890.3 528.9C891.4 529.2 891.4 529.2 892.2 530C893 530.9 893 530.9 893.5 532.1ZM909.5 555C909.5 553.3 909.8 551.7 910.5 551.7C911.2 551.7 912 553.3 912 555C912 556.7 911.2 558 910.5 558C909.8 558 909.5 556.7 909.5 555ZM811.3 640C811.3 637.9 811.8 638.5 813.7 638C815.5 637.5 815.1 639.2 818.3 638C821.6 636.8 822.2 635.9 825.8 633.7C829.5 631.4 828.7 631 832 629.7C835.3 628.4 834.6 628.7 838.3 628.8C842 629 842.5 628.6 845.8 630.3C849.2 632.1 849.2 632.3 850.8 635.3C852.5 638.4 852 638.4 852 641.7C852 644.9 851.5 644.4 850.8 647.5C850.2 650.6 849.7 650 849.7 653.3C849.7 656.7 851.2 657.1 850.8 660C850.5 662.9 849.9 662.7 848.3 664.2C846.8 665.6 846.6 665.8 845 665.3C843.4 664.9 843.6 664.6 842.5 662.5C841.4 660.4 842.4 660.4 840.8 657.5C839.3 654.6 840.4 653.8 836.7 651.7C832.9 649.5 831 649.2 826.7 649.3C822.3 649.4 822.8 651.6 820.3 652C817.9 652.4 819.3 652.5 817.5 650.8C815.7 649.2 815.3 648.7 813.7 645.8C812 642.9 811.3 642.1 811.3 640ZM855.8 640C856.3 637.3 857.2 638.6 858.3 634.2C859.4 629.7 859 626.2 860 623.3C861 620.4 861.2 621.1 862 623.3C862.8 625.6 862.2 628.1 863 631.7C863.8 635.2 864.9 633.6 865 636.7C865.1 639.8 864.8 640.9 863.3 643.3C861.9 645.8 861.4 645.6 859.7 645.8C857.9 646.1 857.7 645.7 856.7 644.2C855.6 642.6 855.4 642.7 855.8 640ZM870.3 643.3C870.2 640.4 870.5 638.9 871.3 635.8C872.1 632.7 871.9 632.9 873.3 631.7C874.8 630.4 875.2 630.5 876.7 631.2C878.1 631.8 878.2 631.4 878.8 634.2C879.5 637 878.9 638.3 879.2 641.7C879.4 645 880.1 644.7 879.7 646.7C879.2 648.7 879 648.5 877.5 649.2C876 649.8 875.7 649.8 874.2 649.2C872.6 648.5 872.7 648.2 871.7 646.7C870.6 645.1 870.4 646.2 870.3 643.3ZM800.8 670.5C801 669.5 801.3 669.1 802.5 669.7C803.7 670.2 804.8 671.2 805.3 672.5C805.9 673.8 805.6 674.4 804.7 674.7C803.8 674.9 803 674.4 802 673.3C801 672.2 800.7 671.5 800.8 670.5ZM921.3 596.7C920.9 593.1 921.2 591.4 922.2 588.3C923.1 585.2 923.3 585.8 925 585C926.7 584.2 927.2 584.6 928.7 585.5C930.2 586.4 930 586.2 930.7 588.3C931.4 590.4 931.3 590 931.3 593.3C931.3 596.7 931.4 597.9 930.7 600.8C930 603.7 929.8 603.1 928.7 604.2C927.5 605.2 927.7 605.3 926.3 604.7C925 604 925 603.8 923.7 601.7C922.3 599.5 921.7 600.2 921.3 596.7ZM857.9 498.3C857.9 498.7 857.9 498.7 857.8 499.1C857.8 499.4 857.8 499.4 857.7 499.6C857.6 499.8 857.6 499.8 857.5 499.8C857.4 499.8 857.4 499.8 857.3 499.6C857.2 499.4 857.2 499.4 857.2 499.1C857.1 498.7 857.1 498.7 857.1 498.3C857.1 497.9 857.1 497.9 857.2 497.6C857.2 497.3 857.2 497.3 857.3 497.1C857.4 496.9 857.4 496.9 857.5 496.9C857.6 496.9 857.6 496.9 857.7 497.1C857.8 497.3 857.8 497.3 857.8 497.6C857.9 497.9 857.9 497.9 857.9 498.3ZM855.3 518.3C855.6 516.8 855.6 516.2 856.7 515C857.8 513.8 858.1 513.9 859.4 514C860.8 514.1 861 514.3 861.7 515.6C862.3 516.9 862.4 517.3 861.9 518.9C861.5 520.4 861.3 520.6 860 521.4C858.7 522.2 858.4 522.2 857.2 521.9C856 521.7 856.1 521.5 855.6 520.6C855 519.6 855 519.8 855.3 518.3ZM584 412C583.9 410 584 410.1 585.5 409C587 407.9 587.5 407.9 589.5 408C591.5 408.1 591.6 408.2 593 409.5C594.4 410.8 594.6 411.1 594.8 413C594.9 414.9 594.8 415.2 593.5 416.5C592.2 417.8 592 418 590 418C588 418 587.6 418.1 586 416.5C584.4 414.9 584.1 414 584 412ZM602 410.5C602.7 409.3 604.5 409.2 606 410C607.5 410.8 607.9 411.6 607.8 413.5C607.6 415.4 606.6 416.7 605.5 417C604.4 417.3 604.4 416.2 603.5 414.5C602.6 412.8 601.3 411.7 602 410.5ZM609.5 403.5C609.6 400.7 609.3 400 610.5 397.5C611.7 395 611.7 395.2 614 394C616.3 392.8 616.6 393 619 393.1C621.4 393.2 621.3 392.9 623 394.5C624.7 396.1 624.7 396.2 625.5 399C626.3 401.8 626.4 402.1 626 405C625.6 407.9 625.6 407.7 624 410C622.4 412.3 622.1 412.3 620 413.5C617.9 414.7 618 414.9 616 414.5C614 414.1 614.1 413.7 612.5 412C610.9 410.3 610.8 410.3 610 408C609.2 405.7 609.4 406.3 609.5 403.5Z"/>
<path fill="#00cc00" d="M573 301.7C573.7 300.4 574.1 299.6 576.7 299.2C579.2 298.7 580.1 298.9 582.5 300C584.9 301.1 585.4 301.8 585.8 303.3C586.3 304.9 586.2 305.4 584.2 305.8C582.2 306.3 581 305.5 578.3 305C575.7 304.5 575.6 304.7 574.2 303.8C572.7 302.9 572.3 302.9 573 301.7ZM597 316.7C597.9 314.2 598.8 312.9 600.8 312.5C602.9 312.1 603.3 312.6 604.7 315C606 317.4 606.2 318.6 605.8 321.7C605.5 324.7 605 325.2 603.3 326.3C601.7 327.4 601.2 327.1 599.7 325.8C598.1 324.6 598.2 324.1 597.5 321.7C596.8 319.2 596.1 319.1 597 316.7ZM637.5 321.7C637.7 320.1 639.4 320.3 642.5 320.5C645.6 320.7 646.1 320.9 649.2 322.5C652.3 324.1 653.1 324.7 654.2 326.7C655.3 328.7 654.9 329.3 653.3 330C651.8 330.7 651.4 330.1 648.3 329.2C645.2 328.2 644.6 328.3 641.7 326.3C638.8 324.3 637.3 323.2 637.5 321.7ZM615.8 365C616.3 363.7 617.1 363.3 618.3 364.2C619.5 365.1 620.2 366.7 620.3 368.3C620.4 370 619.6 370.1 618.7 370.3C617.7 370.6 617.4 370.6 616.7 369.2C615.9 367.7 615.4 366.3 615.8 365ZM555.8 418C556.4 417 556.9 416.5 559.2 416.3C561.4 416.2 561.1 415.6 564.2 417.5C567.3 419.4 567.5 420.4 570.8 423.3C574.2 426.2 575 426 576.7 428.3C578.4 430.6 577.6 430.8 577.2 432C576.7 433.2 576.4 433.1 575 433C573.6 432.9 573.8 433.4 572 431.7C570.2 430 571.3 429.2 568.3 426.7C565.4 424.1 563.9 423.8 560.8 422C557.8 420.2 558.3 421.1 557 420C555.7 418.9 555.3 419 555.8 418ZM616.8 437.2C616.8 438 616.8 438 616.5 438.7C616.1 439.4 616.1 439.4 615.5 439.8C614.9 440.2 614.9 440.2 614.2 440.2C613.5 440.2 613.4 440.2 612.8 439.8C612.2 439.4 612.2 439.4 611.9 438.7C611.5 438 611.5 438 611.5 437.2C611.5 436.4 611.5 436.4 611.9 435.7C612.2 435 612.2 435 612.8 434.6C613.4 434.2 613.5 434.2 614.2 434.2C614.9 434.2 614.9 434.2 615.5 434.6C616.1 435 616.1 435 616.5 435.7C616.8 436.4 616.8 436.4 616.8 437.2ZM705.8 445.8C706.4 443.3 706.9 442.7 708.3 441.3C709.8 440 710.5 439.6 711.3 440.8C712.1 442 711.9 443.2 711.3 445.8C710.8 448.5 710.5 449.5 709.2 450.8C707.8 452.2 707.2 452.2 706.3 450.8C705.4 449.5 705.3 448.4 705.8 445.8ZM763 516.7C763.7 515.2 764.8 516 766.7 516.3C768.5 516.7 769.1 516.8 770 518C770.9 519.2 770.7 519.6 770 520.8C769.3 522 769.1 522.3 767.5 522.5C765.9 522.7 765.4 523.2 764.2 521.7C763 520.1 762.3 518.1 763 516.7ZM892.8 532.4C893.2 533.3 893.2 533.4 893.1 534.3C893.1 535.2 893.1 535.2 892.7 535.9C892.3 536.5 892.3 536.5 891.6 536.8C890.9 537 890.9 537 890.2 536.8C889.4 536.5 889.4 536.5 888.8 535.9C888.2 535.2 888.2 535.2 887.8 534.2C887.5 533.3 887.5 533.3 887.5 532.4C887.6 531.5 887.6 531.5 888 530.8C888.4 530.1 888.4 530.1 889.1 529.9C889.7 529.6 889.8 529.6 890.5 529.9C891.2 530.1 891.3 530.1 891.9 530.8C892.5 531.5 892.5 531.5 892.8 532.4ZM812.5 640.8C812.5 639.1 813.2 639.6 815 639.2C816.8 638.7 816.1 640.3 819.2 639.2C822.2 638.1 822.8 637.2 826.3 635C829.9 632.8 829.3 632.2 832.5 630.8C835.7 629.5 834.9 629.8 838.3 630C841.8 630.2 842.2 630 845.3 631.7C848.4 633.4 848.5 633.7 850 636.3C851.5 639 850.8 638.8 850.8 641.7C850.8 644.5 850.6 643.9 850 647C849.4 650.1 848.8 649.9 848.7 653.3C848.6 656.8 850 657.3 849.7 660C849.4 662.7 848.7 662.2 847.5 663.3C846.3 664.4 846.2 664.6 845 664.2C843.8 663.7 843.9 663.7 843 661.7C842.1 659.7 843.1 659.6 841.7 656.7C840.2 653.8 841.5 653.1 837.5 650.8C833.5 648.6 831.1 648.3 826.7 648.3C822.2 648.3 823.1 650.5 820.8 650.8C818.6 651.2 819.9 651 818.3 649.7C816.8 648.3 816.6 648.2 815 645.8C813.4 643.5 812.5 642.6 812.5 640.8ZM857 640.8C856.9 638.3 858.1 637.2 859.2 635C860.2 632.8 860.1 632.3 860.8 632.5C861.6 632.7 861.2 634.3 862 635.8C862.8 637.4 863.7 636.4 863.7 638.3C863.7 640.2 863.1 641.3 862 643C860.9 644.7 860.8 645.2 859.5 644.7C858.2 644.1 857.1 643.4 857 640.8ZM871.7 643.3C871.7 640.9 871.8 639.4 872.5 636.7C873.2 633.9 873.1 634.1 874.2 633C875.2 631.9 875.4 632 876.3 632.5C877.3 633 877.2 632.6 877.7 635C878.1 637.4 877.9 638.8 878 641.7C878.1 644.6 878.4 644.1 878 645.8C877.6 647.5 877.4 647.4 876.3 648C875.3 648.6 875.2 648.6 874.2 648C873.1 647.4 873.2 647.1 872.5 645.8C871.8 644.6 871.7 645.8 871.7 643.3ZM924.2 591.7C924.2 589.7 924.4 588.8 925.3 587.5C926.2 586.2 926.6 586 927.5 586.7C928.4 587.3 928.7 587.8 928.7 590C928.7 592.2 928.4 593.7 927.5 595C926.6 596.3 926.2 595.9 925.3 595C924.4 594.1 924.2 593.7 924.2 591.7ZM859.6 518.3C859.6 518.7 859.6 518.7 859.4 518.9C859.2 519.2 859.2 519.2 858.9 519.4C858.7 519.6 858.7 519.6 858.3 519.6C858 519.6 858 519.6 857.7 519.4C857.4 519.2 857.4 519.2 857.3 518.9C857.1 518.7 857.1 518.7 857.1 518.3C857.1 518 857.1 518 857.3 517.7C857.4 517.4 857.4 517.4 857.7 517.3C858 517.1 858 517.1 858.3 517.1C858.7 517.1 858.7 517.1 858.9 517.3C859.2 517.4 859.2 517.4 859.4 517.7C859.6 518 859.6 518 859.6 518.3ZM593 413C593 413.9 593 413.9 592.5 414.8C592.1 415.6 592.1 415.6 591.2 416C590.4 416.5 590.4 416.5 589.5 416.5C588.6 416.5 588.6 416.5 587.8 416C586.9 415.6 586.9 415.6 586.5 414.8C586 413.9 586 413.9 586 413C586 412.1 586 412.1 586.5 411.2C586.9 410.4 586.9 410.4 587.8 410C588.6 409.5 588.6 409.5 589.5 409.5C590.4 409.5 590.4 409.5 591.2 410C592.1 410.4 592.1 410.4 592.5 411.2C593 412.1 593 412.1 593 413ZM625.4 403.8C625.4 405.7 625.4 405.6 624.8 407.5C624.2 409.3 624.2 409.2 623.1 410.6C622.1 412 622.1 412 620.7 412.8C619.3 413.5 619.4 413.5 617.9 413.5C616.3 413.5 616.4 413.5 615 412.8C613.6 412 613.6 412 612.5 410.6C611.5 409.2 611.5 409.3 610.9 407.5C610.3 405.6 610.4 405.7 610.4 403.8C610.4 401.8 610.3 401.9 610.9 400C611.5 398.2 611.5 398.3 612.5 396.9C613.6 395.5 613.6 395.5 615 394.7C616.4 394 616.3 394 617.9 394C619.4 394 619.3 394 620.7 394.7C622.1 395.5 622.1 395.5 623.1 396.9C624.2 398.3 624.2 398.2 624.8 400C625.4 401.9 625.4 401.8 625.4 403.8Z"/>
<path fill="#009900" d="M575 301.3C575.4 300.4 577.2 299.9 579.2 300C581.2 300.1 581.8 300.8 582.5 301.7C583.2 302.6 583 302.9 581.7 303.3C580.3 303.8 579.3 303.9 577.5 303.3C575.7 302.8 574.6 302.2 575 301.3ZM599.2 317.5C599.7 315.6 600.3 314.7 601.7 314.7C603 314.7 603.5 315.3 604.2 317.5C604.8 319.7 604.8 321.1 604.2 323C603.5 324.9 602.9 325 601.7 324.7C600.5 324.3 600.3 323.6 599.7 321.7C599 319.8 598.6 319.4 599.2 317.5ZM641.7 323C642.6 322.1 644.2 321.7 646.7 322.5C649.1 323.3 650.6 324.5 650.8 325.8C651.1 327.2 649.5 327.5 647.5 327.5C645.5 327.5 644.9 327 643.3 325.8C641.8 324.6 640.8 323.9 641.7 323ZM558 418.3C558.5 417.7 559 417.3 560.8 417.5C562.7 417.7 562.6 417.5 565 419.2C567.4 420.8 567.1 421.1 570 423.7C572.9 426.2 574.3 426.6 575.8 428.7C577.4 430.7 576.5 430.8 575.8 431.3C575.2 431.9 575.1 432.3 573.3 430.8C571.6 429.4 572.3 428.4 569.2 425.8C566.1 423.3 564.4 422.9 561.7 421.3C558.9 419.8 559.8 420.8 558.8 420C557.9 419.2 557.5 419 558 418.3ZM615.2 437.2C615.2 437.5 615.2 437.5 615 437.8C614.9 438.1 614.9 438.1 614.7 438.3C614.4 438.5 614.4 438.5 614.2 438.5C613.9 438.5 613.9 438.5 613.7 438.3C613.4 438.1 613.4 438.1 613.3 437.8C613.2 437.5 613.2 437.5 613.2 437.2C613.2 436.8 613.2 436.8 613.3 436.5C613.4 436.2 613.4 436.2 613.7 436C613.9 435.8 613.9 435.8 614.2 435.8C614.4 435.8 614.4 435.8 614.7 436C614.9 436.2 614.9 436.2 615 436.5C615.2 436.8 615.2 436.8 615.2 437.2ZM706.7 445.8C707.1 444.3 707.7 443.4 708.7 443C709.6 442.6 710.2 442.7 710.3 444.2C710.5 445.6 710 447.1 709.2 448.3C708.3 449.5 707.8 449.3 707.2 448.7C706.5 448 706.3 447.3 706.7 445.8ZM815.8 645C815.6 643.2 815.9 642.9 817.5 642.5C819.1 642.1 820.1 644 821.7 643.3C823.2 642.7 822 641.9 823.3 640C824.7 638.1 824.1 638.5 826.7 636.3C829.2 634.2 829.9 633.4 833 632C836.1 630.6 835.1 630.9 838.3 631.2C841.5 631.4 842.2 631.3 845 632.8C847.8 634.4 847.6 634.6 848.8 637C850.1 639.4 849.7 639.1 849.7 641.7C849.7 644.2 849.4 643.6 848.8 646.7C848.3 649.8 847.5 649.9 847.5 653.3C847.5 656.8 848.9 657.2 848.7 659.7C848.4 662.1 847.7 661.7 846.7 662.5C845.6 663.3 845.6 663.2 844.7 662.5C843.8 661.8 843.9 661.8 843.3 660C842.8 658.2 843.8 658.6 842.5 655.8C841.2 653.1 841.7 651.9 838.3 649.7C835 647.4 833.8 648.1 830 647.5C826.2 646.9 826.4 646.9 824.2 647.5C821.9 648.1 823.2 649.2 821.7 649.7C820.1 650.1 819.9 650.4 818.3 649.2C816.8 647.9 816.1 646.8 815.8 645ZM591.5 413.5C591.5 413.9 591.5 413.9 591.3 414.2C591 414.6 591 414.6 590.6 414.8C590.2 415 590.2 415 589.8 415C589.3 415 589.3 415 588.9 414.8C588.5 414.6 588.5 414.6 588.2 414.2C588 413.9 588 413.9 588 413.5C588 413.1 588 413.1 588.2 412.8C588.5 412.4 588.5 412.4 588.9 412.2C589.3 412 589.3 412 589.8 412C590.2 412 590.2 412 590.6 412.2C591 412.4 591 412.4 591.3 412.8C591.5 413.1 591.5 413.1 591.5 413.5ZM624.9 403.7C624.9 405.6 624.9 405.5 624.4 407.2C623.8 409 623.9 408.9 622.9 410.2C621.8 411.6 621.9 411.5 620.6 412.2C619.3 413 619.3 412.9 617.9 412.9C616.5 412.9 616.5 413 615.2 412.2C613.9 411.5 614 411.6 613 410.2C611.9 408.9 612 409 611.4 407.2C610.9 405.5 610.9 405.6 610.9 403.7C610.9 401.8 610.9 401.9 611.4 400.2C612 398.4 611.9 398.5 613 397.2C614 395.8 613.9 395.9 615.2 395.1C616.5 394.4 616.5 394.4 617.9 394.4C619.3 394.4 619.3 394.4 620.6 395.1C621.9 395.9 621.8 395.8 622.9 397.2C623.9 398.5 623.8 398.4 624.4 400.2C624.9 401.9 624.9 401.8 624.9 403.7Z"/>
<path fill="#ffff00" d="M560 419.7C560.4 419 561.1 418.4 562.5 418.7C563.9 419 565 419.8 565.3 420.8C565.6 421.9 564.9 422.4 563.7 422.5C562.5 422.6 561.8 422.1 560.8 421.3C559.9 420.6 559.6 420.4 560 419.7ZM572 428C572.4 427.6 573.9 427.6 574.7 428.3C575.5 429.1 575.4 430.4 575 430.8C574.6 431.3 573.8 430.8 573 430C572.2 429.2 571.6 428.4 572 428ZM824.2 641.7C824.4 639.9 824.1 639.3 825.8 637.5C827.6 635.7 827.7 635.8 830.8 635C833.9 634.2 834.6 635.1 837.5 634.6C840.4 634 839.4 633.4 841.7 632.9C843.9 632.5 843.9 632.1 845.8 632.9C847.7 633.7 847.9 633.7 848.8 635.8C849.6 637.9 849.5 638.2 849.2 640.8C848.8 643.5 848.2 643.4 847.5 645.8C846.8 648.3 846.6 647.1 846.7 650C846.8 652.9 847.7 653.8 847.9 656.7C848.1 659.6 848.3 659.4 847.5 660.8C846.7 662.3 846.2 662.5 845 662.1C843.8 661.6 843.7 661.5 842.9 659.2C842.1 656.8 842.9 656.2 842.1 653.3C841.3 650.4 841.9 650.1 840 648.3C838.1 646.6 838.1 647.3 835 646.7C831.9 646 831 646.5 828.3 645.8C825.7 645.2 826.1 645.3 825 644.2C823.9 643.1 823.9 643.4 824.2 641.7ZM611.2 403.5C611.3 401.5 611 400.6 612 398.5C613 396.4 613 396.5 615 395.5C617 394.5 617.5 394.5 619.5 394.8C621.5 395 621.2 394.8 622.5 396.5C623.8 398.2 623.8 398.5 624.2 401C624.7 403.5 624.7 403.7 624.2 406C623.8 408.3 623.8 407.9 622.5 409.5C621.2 411.1 621.1 411.5 619.5 412C617.9 412.5 618.1 412.3 616.5 411.5C614.9 410.7 614.8 410.5 613.5 409C612.2 407.5 612.4 407.5 611.8 406C611.1 404.5 611.2 405.5 611.2 403.5Z"/>
<path fill="#ffcc00" d="M827.1 641.7C827.3 640.1 827.1 639.3 828.8 637.9C830.4 636.5 830.8 636.6 833.3 636.5C835.9 636.4 835.9 637.6 838.3 637.5C840.8 637.4 840.6 636.3 842.5 636C844.4 635.7 844.2 635.7 845.4 636.5C846.6 637.3 846.7 637.3 847.1 639.2C847.4 641 847.4 641.6 846.7 643.3C845.9 645.1 845.9 644.9 844.2 645.8C842.4 646.7 842.4 646.8 840 646.7C837.6 646.6 837.7 645.9 835 645.4C832.3 645 831.9 645.4 830 645C828.1 644.6 828.7 644.6 827.9 643.8C827.1 642.9 826.9 643.2 827.1 641.7ZM623.5 403.2C623.5 404.7 623.5 404.7 623.1 406C622.7 407.4 622.7 407.3 622 408.4C621.2 409.4 621.2 409.4 620.3 409.9C619.3 410.5 619.3 410.5 618.2 410.5C617.2 410.5 617.2 410.5 616.2 409.9C615.3 409.4 615.3 409.4 614.5 408.4C613.8 407.3 613.8 407.4 613.4 406C613 404.7 613 404.7 613 403.2C613 401.8 613 401.8 613.4 400.5C613.8 399.1 613.8 399.2 614.5 398.1C615.3 397.1 615.3 397.1 616.2 396.6C617.2 396 617.2 396 618.2 396C619.3 396 619.3 396 620.3 396.6C621.2 397.1 621.2 397.1 622 398.1C622.7 399.2 622.7 399.1 623.1 400.5C623.5 401.8 623.5 401.8 623.5 403.2Z"/>
<path fill="#ff6600" d="M829 641.7C829.1 640.7 828.8 640.4 829.6 640C830.4 639.6 830.7 639.4 832.1 640C833.4 640.6 834.6 641.1 834.6 642.1C834.6 643.1 833.5 643.4 832.1 643.8C830.6 644.1 830 644.1 829.2 643.5C828.3 642.9 828.9 642.6 829 641.7ZM843 642.3C843 642.5 843 642.5 842.9 642.6C842.9 642.7 842.9 642.7 842.8 642.8C842.6 642.8 842.6 642.8 842.5 642.8C842.4 642.8 842.4 642.8 842.2 642.8C842.1 642.7 842.1 642.7 842.1 642.6C842 642.5 842 642.5 842 642.3C842 642.2 842 642.2 842.1 642.1C842.1 642 842.1 642 842.2 641.9C842.4 641.8 842.4 641.8 842.5 641.8C842.6 641.8 842.6 641.8 842.8 641.9C842.9 642 842.9 642 842.9 642.1C843 642.2 843 642.2 843 642.3ZM622.9 403.2C622.9 404.5 622.9 404.5 622.5 405.6C622.2 406.8 622.2 406.8 621.5 407.7C620.9 408.6 620.9 408.5 620.1 409C619.2 409.5 619.3 409.5 618.4 409.5C617.4 409.5 617.5 409.5 616.6 409C615.8 408.5 615.8 408.6 615.2 407.7C614.5 406.8 614.5 406.8 614.2 405.6C613.8 404.5 613.9 404.5 613.9 403.2C613.9 402 613.8 402 614.2 400.9C614.5 399.7 614.5 399.7 615.2 398.8C615.8 397.9 615.8 398 616.6 397.5C617.5 397 617.4 397 618.4 397C619.3 397 619.2 397 620.1 397.5C620.9 398 620.9 397.9 621.5 398.8C622.2 399.7 622.2 399.7 622.5 400.9C622.9 402 622.9 402 622.9 403.2Z"/>
<path fill="#ff0000" d="M614.5 403C614.5 401 614.6 400.5 615.5 399C616.4 397.5 616.7 397.6 618 397.5C619.3 397.4 619.3 397.3 620.5 398.5C621.7 399.7 622 400 622.5 402C623 404 622.9 404.3 622.2 406C621.6 407.7 621.3 407.8 620 408.5C618.7 409.2 618.7 409.3 617.5 408.8C616.3 408.2 616.3 408 615.5 406.5C614.7 405 614.5 405 614.5 403Z"/>
<path fill="#cc3300" d="M616.5 403C616.8 401.9 617.1 400.6 618 400.5C618.9 400.4 619.4 401.3 619.8 402.5C620.1 403.7 620 404.1 619.5 405C619 405.9 618.7 406.1 618 406C617.3 405.9 617.1 405.6 616.8 404.8C616.4 403.9 616.2 404.1 616.5 403Z"/>
</g>
<g stroke="#969696" stroke-width="1.1" fill="none">
<path stroke-dasharray="1.9 7.64" d="M301.1 85.25V820.3M358.9 85.25V820.3M416.8 85.25V820.3M474.6 85.25V820.3M532.4 85.25V820.3M590.2 85.25V820.3M648.1 85.25V820.3M705.9 85.25V820.3M763.7 85.25V820.3M821.6 85.25V820.3M879.4 85.25V820.3"/>
<path stroke-dasharray="2 7.83" d="M271.9 124.3H937.5M271.9 191.7H937.5M271.9 259.1H937.5M271.9 326.5H937.5M271.9 393.9H937.5M271.9 461.2H937.5M271.9 528.6H937.5M271.9 596H937.5M271.9 663.4H937.5M271.9 730.8H937.5M271.9 798.2H937.5"/>
</g>
<g clip-path="url(#pc)" fill="none" stroke="#000" stroke-width="1.1" stroke-linejoin="round">
<path d="M277.5 79.2L287.5 95L295 102L300 111.2L303.8 121.8L322 129.5L326.2 139.2L318 135.8L310.8 141.2L317.5 147.5L322.8 155.8L317.5 163.8L307 161.8L298.8 165.5L291.8 159.5L278 171.2L295 179.2L308.8 191.8L318.8 189.5L325.8 195.8L327.5 207.5L327.5 220L324.2 233.2L332.5 229.5L329.5 239.5L321.2 243L314.2 249.2L303.8 251.8L300.8 261.2L305.5 270.8L301.2 278L294.5 284.2L288 293.2L293.8 301.8L291.8 313.8L293.8 325.8L298.8 333.8L305.5 353.2L330.8 393.2L348.2 401.2L359.2 401.2L380 405L389.2 409.2L403.2 421.2L428.8 461.2L437.5 465L444.5 445L452.5 441.2L454.5 429.5L464.2 431.2L475 413.8L481.8 409.2L471.8 411.2L468.8 400L468.8 385L456.2 385L449.2 379.2L439.5 377L430.5 373.2L421.2 357.5L411.8 351.2L407 315L399.2 309.2L407 313.8L416.2 331.2L425 335.5L435.5 333.2L441.2 341.2L450.8 343.8L456.2 351.2L464.2 355L470 363.2L478.8 369.5L487.5 373.2L497.5 375L488.8 379.2L498.2 377L505.5 383.2L507.5 395L515 401.8L525 417L525 430.8L520 439.2L518 450.8L524.5 456.2L530 465L537.5 471.2L543.8 479.2L554.2 477.2L563.3 479.2L573.3 483.3L590 486.7L610.8 494.2L620.8 511.3L630 512.5L657.5 524.5L667.5 532.5L677.5 545.5L686.2 549.5L693.8 555L700 563.8L705 568.8L710 578.8L717.5 586.2L722.5 593.8L725.5 602.5L722.5 612.5L724.2 623.8L728.8 632.5L717.5 645.8L727 644.5L718.8 648L716.2 659.5L702.5 673.8L699.5 682L708.8 697.5L717.5 705L727.5 716.2L730 719.5L737.5 722.5L748.8 720.5L783.8 736.2L788.8 728.8L789.2 715L785 703.8L780.8 697L762.5 688L757.5 677.5L751.8 660L773 656.8L783.8 672.5L800 680L810 682.5L817.5 688L806.2 688.8L811 696.8L821.2 698.7L812.8 702.8L817.8 711L821.2 722.2L816.2 729.8L814.5 742.5L828.2 754.5L836.5 759L844 765L854.5 781.5L860.5 798L860.5 814.5L867.7 814.5L869.5 802.2L865.8 792L865.5 778.5L867.2 766.5L872.5 759L889 750.8L900.2 748.5L919.8 752.2L930.2 756.8L937 758.2M322 129.5L325 121.2L330.5 111.2L335 101.8L344.5 99.5L358.8 111.2L367.5 115.8L387.5 119.5L473.2 159.2L481.2 155.8L496.2 143.8L503.8 140L511.2 133.8L519.5 129.5L526.2 135.8L538.8 135.8L545.8 141.8L553 145.5L561.2 153.8L569.5 157.5L579.5 147.5L582.5 157.5L587.5 165.5L605 173.2L608.8 183.8L610.8 195.5L622.5 195.5L631.2 199.5L639.5 195.5L649.2 200L662 211.8L671.2 210L680.5 206.2L690 199.5L699.2 197.5L708.8 193L715 187.5L711.8 163M326.2 79.2L333.8 86.2L350 93.8L355 101.8L371.2 109.2L392.5 113.2L401.2 117.5L408.8 123.2L418.8 125.5L430 125.5L440 127.5L457.5 135.8L468.8 135.8L478.8 139.5L487.5 138L493.8 133.8L497.5 127.5L499.2 121.2L497.5 110L499.2 97.5L496.2 87.5L490.5 79.2M450 101.2L456.2 109.2L447.5 113.2L450 101.2M422 343.8L431.2 345.5L437 352.5L427.5 355L420.5 349.5L422 343.8M673.8 79.2L674.5 90L677.5 107.5L683.8 125.5L691.2 140L700 153.8L703 163.8L712.5 162L717 164.2L722.5 173.8L728.8 191.8L723.8 183.8L723.2 197.5L720 207L728.8 203.8L733.8 211.8L735.5 222.5L741.8 242L747.5 251.2L751.8 261.8L756.2 270L760 280L785 319.5L792.5 325.8L817.5 365L824.5 371.2L835 369.5L838.8 379.5L868.8 427L878.8 431.2L881.2 440L886.2 449.2L895 453L915 457L921.2 465L932.5 473.8L937.5 479M925 469.7L920.8 470.8L917.5 480.8L908.7 485L895 473.3L890 465L881.3 461.2L871.7 463.3L865.8 471.2L873 484.7L867.5 485L859.7 488.7L855 495L854 506.7L854 580.8L860 583.3L866.7 585L875 589.2L879.2 595L889.2 600L893.3 605L895 609.2L893.3 615.8L889.2 621.7L882.5 625.8L875.8 628.3L869.2 631.7L865.8 635.8L865 641.7L857.5 648L860 656.7L864.2 663.3L870 671.7L872.5 680L874.2 693.3L874.8 699L874.8 712.5L870.2 719.2L862 726.5L852.2 728.7L847 737.2L839.5 742.5L831.7 746.7L838 754.5L846.2 760.5L854.5 764.2L856 775.5L862.5 796.5L862.5 810L860.5 814.5"/>
</g>
<rect x="262.6" y="79.2" width="674.9" height="741.0999999999999" fill="none" stroke="#000" stroke-width="1.35"/>
<path d="M301.1 820.3V826M358.9 820.3V826M416.8 820.3V826M474.6 820.3V826M532.4 820.3V826M590.2 820.3V826M648.1 820.3V826M705.9 820.3V826M763.7 820.3V826M821.6 820.3V826M879.4 820.3V826M262.6 124.3H257.1M262.6 191.7H257.1M262.6 259.1H257.1M262.6 326.5H257.1M262.6 393.9H257.1M262.6 461.2H257.1M262.6 528.6H257.1M262.6 596H257.1M262.6 663.4H257.1M262.6 730.8H257.1M262.6 798.2H257.1" stroke="#000" stroke-width="1.35" fill="none"/>
<text class="ax" transform="scale(0.93 1)" text-anchor="middle" y="130.3" x="227.8 238.6 246.7 254.7 266">11.1N</text>
<text class="ax" transform="scale(0.93 1)" text-anchor="middle" y="197.7" x="227.8 238.6 246.7 254.7 266">10.8N</text>
<text class="ax" transform="scale(0.93 1)" text-anchor="middle" y="265.1" x="227.8 238.6 246.7 254.7 266">10.5N</text>
<text class="ax" transform="scale(0.93 1)" text-anchor="middle" y="332.5" x="227.8 238.6 246.7 254.7 266">10.2N</text>
<text class="ax" transform="scale(0.93 1)" text-anchor="middle" y="399.9" x="238.6 246.7 254.7 266">9.9N</text>
<text class="ax" transform="scale(0.93 1)" text-anchor="middle" y="467.2" x="238.6 246.7 254.7 266">9.6N</text>
<text class="ax" transform="scale(0.93 1)" text-anchor="middle" y="534.6" x="238.6 246.7 254.7 266">9.3N</text>
<text class="ax" transform="scale(0.93 1)" text-anchor="middle" y="602" x="254.7 266">9N</text>
<text class="ax" transform="scale(0.93 1)" text-anchor="middle" y="669.4" x="238.6 246.7 254.7 266">8.7N</text>
<text class="ax" transform="scale(0.93 1)" text-anchor="middle" y="736.8" x="238.6 246.7 254.7 266">8.4N</text>
<text class="ax" transform="scale(0.93 1)" text-anchor="middle" y="804.2" x="238.6 246.7 254.7 266">8.1N</text>
<text class="ax" transform="scale(0.93 1)" text-anchor="middle" y="840.5" x="303.9 314.6 322.7 330.8 342.6">85.8W</text>
<text class="ax" transform="scale(0.93 1)" text-anchor="middle" y="840.5" x="366.1 376.8 384.9 392.9 404.8">85.5W</text>
<text class="ax" transform="scale(0.93 1)" text-anchor="middle" y="840.5" x="428.2 439 447.1 455.1 466.9">85.2W</text>
<text class="ax" transform="scale(0.93 1)" text-anchor="middle" y="840.5" x="490.4 501.2 509.2 517.3 529.1">84.9W</text>
<text class="ax" transform="scale(0.93 1)" text-anchor="middle" y="840.5" x="552.6 563.4 571.4 579.5 591.3">84.6W</text>
<text class="ax" transform="scale(0.93 1)" text-anchor="middle" y="840.5" x="614.8 625.5 633.6 641.7 653.5">84.3W</text>
<text class="ax" transform="scale(0.93 1)" text-anchor="middle" y="840.5" x="685 695.8 707.6">84W</text>
<text class="ax" transform="scale(0.93 1)" text-anchor="middle" y="840.5" x="739.2 749.9 758 766 777.9">83.7W</text>
<text class="ax" transform="scale(0.93 1)" text-anchor="middle" y="840.5" x="801.3 812.1 820.2 828.2 840">83.4W</text>
<text class="ax" transform="scale(0.93 1)" text-anchor="middle" y="840.5" x="863.5 874.3 882.3 890.4 902.2">83.1W</text>
<text class="ax" transform="scale(0.93 1)" text-anchor="middle" y="840.5" x="925.7 936.5 944.5 952.6 964.4">82.8W</text>
<text class="ti" transform="scale(0.88 1)" text-anchor="middle" y="30.2" x="153.1 170.7 196.1 216.8 243.6 264.5 286 307.6 329.1 345.1 361.6 385.9 402.4 415.7 435.5 455.4 475.8 494.6 511.7 531.5 545.9 560.8 575.7 586.7 603.8 624.2 638.6 653.5 674.4 693.7 712.5 732.4 752.8 779.8 806.8 821.7 836.6 857.6 878.6 897.9 916.6 937 956.4 976.2 996.1 1015.4 1036.4 1054 1071.7 1091.5 1109.7 1126.3 1150.6 1183.7 1207.9">IMN<tspan font-size="50" rotate="12" dy="6.6" stroke-width="1.7">/</tspan><tspan dy="-6.6">S</tspan>ARAPIQUI_5 Precipitacion Acumulada en 6 horas (mm)</text>
<text class="ti" transform="scale(0.96 1)" text-anchor="middle" y="61.4" x="489.8 510 530.2 550.5 573.7 597 617.2 640.5 663.7 684 702.2 720.4 740.6 760.8">2026<tspan textLength="25.4" lengthAdjust="spacingAndGlyphs">-</tspan>02<tspan textLength="25.4" lengthAdjust="spacingAndGlyphs">-</tspan>16 00Z</text>
<text class="ft" transform="scale(1.07 1)" text-anchor="middle" y="876.6" x="308 318.5 332.4 343.7 351.5 359.2 371.3 383.3 395.3 408.9 424.5 440.8 452.4 464.1 478.4 490.9 503.3 513.8 524.3 539 549.5 559.6 574 587.6 602.3 618.2 632.6 642.7 653.2 667.9 682.7 693.2 702.5 716.9 732.4 746.4 757.6 769.7 783.3 797.6 808.9 819 833.4">Instituto Meteorologico Nacional Costa Rica</text>
<g stroke="#000" stroke-width="1.2" stroke-linejoin="miter">
<rect x="1057.8" y="725.3" width="22" height="42.4" fill="#66ffff"/>
<rect x="1057.8" y="682.9" width="22" height="42.4" fill="#3399ff"/>
<rect x="1057.8" y="640.6" width="22" height="42.4" fill="#0000ff"/>
<rect x="1057.8" y="598.2" width="22" height="42.4" fill="#00ff00"/>
<rect x="1057.8" y="555.8" width="22" height="42.4" fill="#00cc00"/>
<rect x="1057.8" y="513.4" width="22" height="42.4" fill="#009900"/>
<rect x="1057.8" y="471" width="22" height="42.4" fill="#ffff00"/>
<rect x="1057.8" y="428.7" width="22" height="42.4" fill="#ffcc00"/>
<rect x="1057.8" y="386.3" width="22" height="42.4" fill="#ff6600"/>
<rect x="1057.8" y="343.9" width="22" height="42.4" fill="#ff0000"/>
<rect x="1057.8" y="301.5" width="22" height="42.4" fill="#cc3300"/>
<rect x="1057.8" y="259.1" width="22" height="42.4" fill="#990000"/>
<rect x="1057.8" y="216.8" width="22" height="42.4" fill="#ff00ff"/>
<rect x="1057.8" y="174.4" width="22" height="42.4" fill="#9933cc"/>
<rect x="1057.8" y="132" width="22" height="42.4" fill="#f5f5f5"/>
<path d="M1057.8 132.0L1068.8 89L1079.8 132.0Z" fill="#aaaaaa"/>
<path d="M1057.8 767.7L1068.8 810.6L1079.8 767.7Z" fill="#ffffff"/>
</g>
<text class="cb" transform="scale(1.02 1)" text-anchor="middle" y="774.8" x="1069.9 1079.9 1089.8">3.5</text>
<text class="cb" transform="scale(1.02 1)" text-anchor="middle" y="732.4" x="1069.9">7</text>
<text class="cb" transform="scale(1.02 1)" text-anchor="middle" y="690" x="1069.9 1083.2 1093.1 1103.1">12.5</text>
<text class="cb" transform="scale(1.02 1)" text-anchor="middle" y="647.7" x="1069.9 1083.2">15</text>
<text class="cb" transform="scale(1.02 1)" text-anchor="middle" y="605.3" x="1069.9 1083.2">20</text>
<text class="cb" transform="scale(1.02 1)" text-anchor="middle" y="562.9" x="1069.9 1083.2">25</text>
<text class="cb" transform="scale(1.02 1)" text-anchor="middle" y="520.5" x="1069.9 1083.2">30</text>
<text class="cb" transform="scale(1.02 1)" text-anchor="middle" y="478.1" x="1069.9 1083.2">40</text>
<text class="cb" transform="scale(1.02 1)" text-anchor="middle" y="435.8" x="1069.9 1083.2">50</text>
<text class="cb" transform="scale(1.02 1)" text-anchor="middle" y="393.4" x="1069.9 1083.2">60</text>
<text class="cb" transform="scale(1.02 1)" text-anchor="middle" y="351" x="1069.9 1083.2">75</text>
<text class="cb" transform="scale(1.02 1)" text-anchor="middle" y="308.6" x="1069.9 1083.2">90</text>
<text class="cb" transform="scale(1.02 1)" text-anchor="middle" y="266.2" x="1069.9 1083.2 1096.5">100</text>
<text class="cb" transform="scale(1.02 1)" text-anchor="middle" y="223.9" x="1069.9 1083.2 1096.5">120</text>
<text class="cb" transform="scale(1.02 1)" text-anchor="middle" y="181.5" x="1069.9 1083.2 1096.5">150</text>
<text class="cb" transform="scale(1.02 1)" text-anchor="middle" y="139.1" x="1069.9 1083.2 1096.5">200</text>
</svg>
</body></html>
